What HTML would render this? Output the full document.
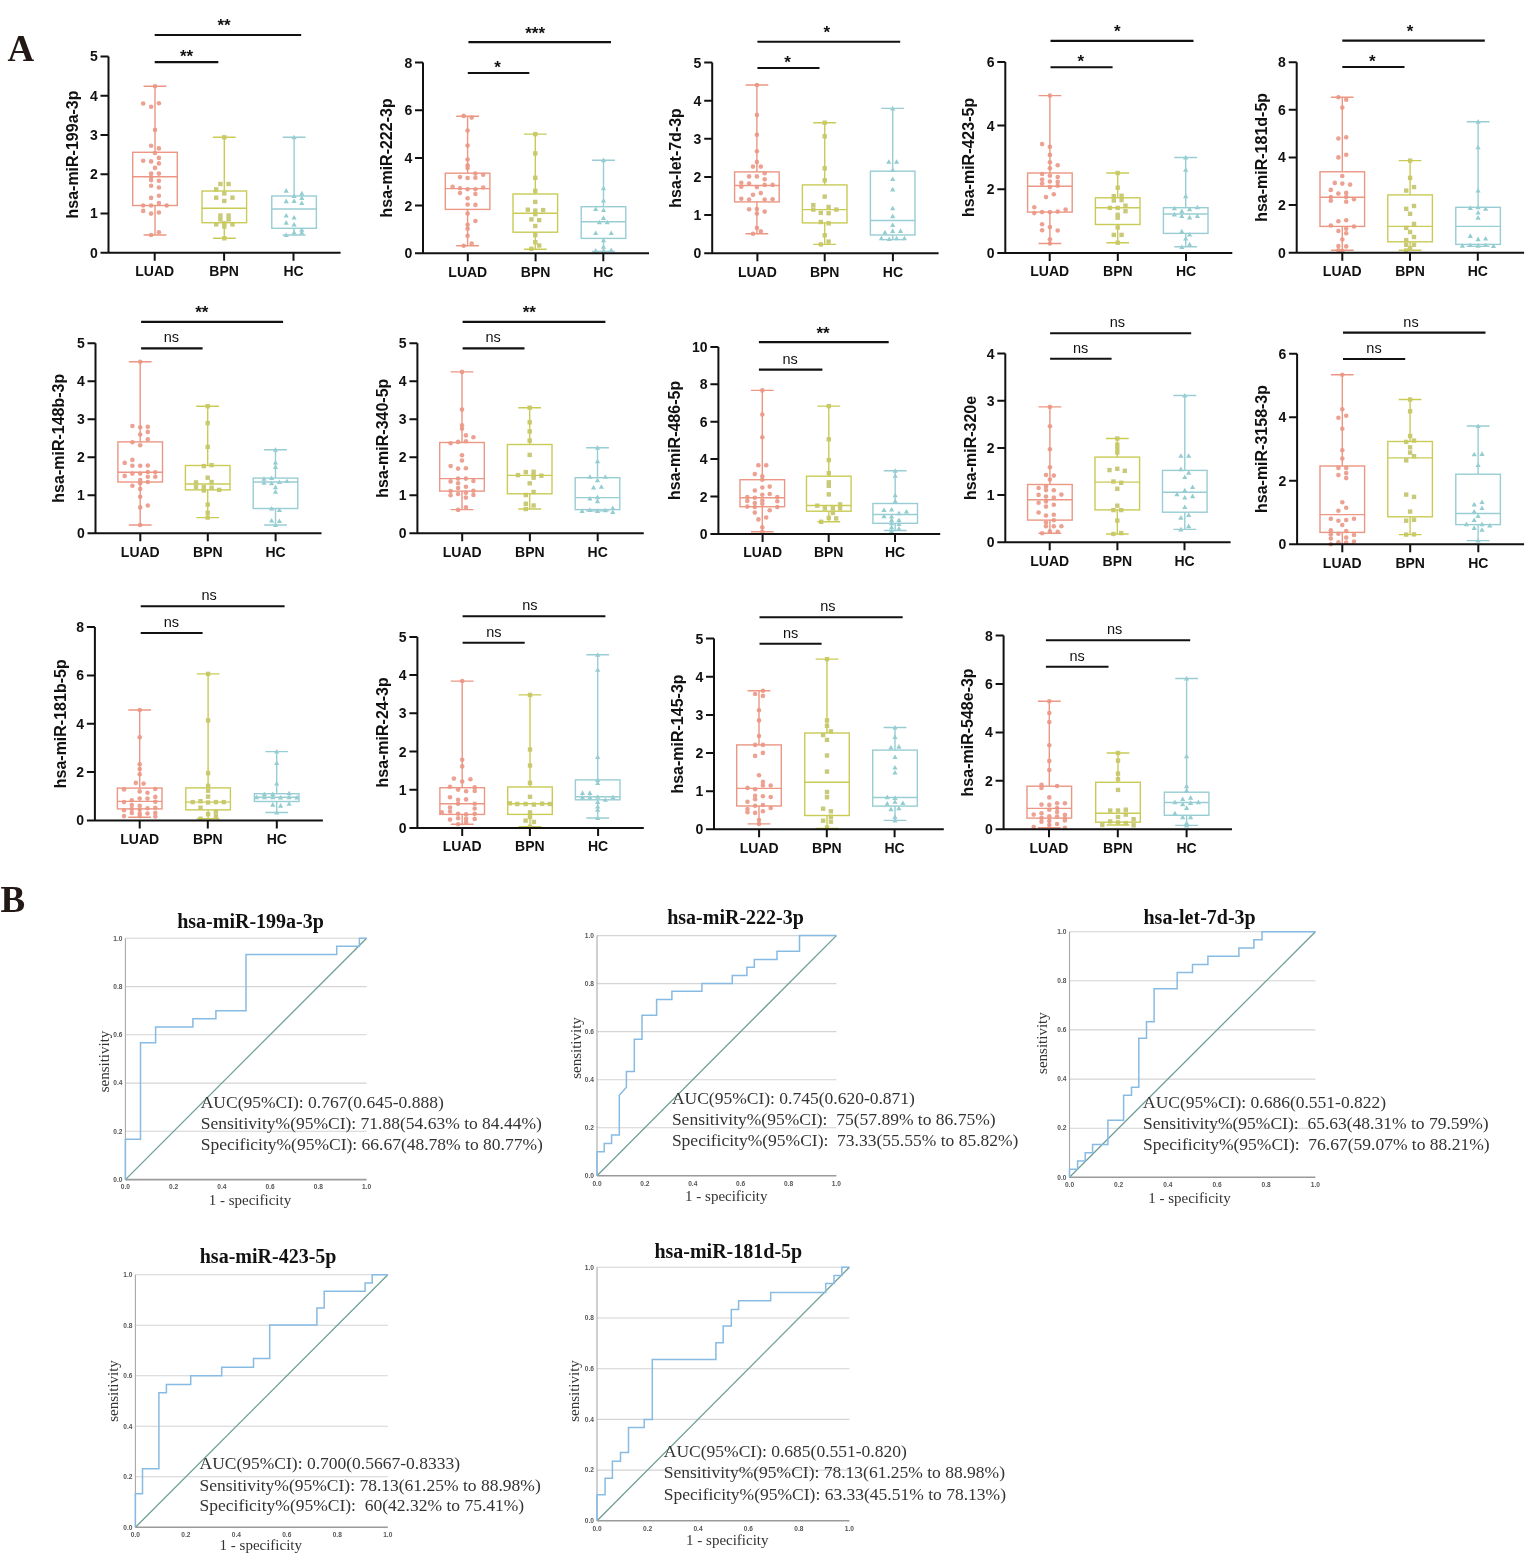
<!DOCTYPE html>
<html><head><meta charset="utf-8"><title>Figure</title><style>
html,body{margin:0;padding:0;background:#fff;}
body{width:1535px;height:1554px;overflow:hidden;}
svg{display:block;}
.tk{font-family:"Liberation Sans",Arial,sans-serif;font-weight:bold;font-size:14px;fill:#111;}
.xl{font-family:"Liberation Sans",Arial,sans-serif;font-weight:bold;font-size:14px;fill:#111;}
.yt{font-family:"Liberation Sans",Arial,sans-serif;font-weight:bold;font-size:16px;fill:#111;}
.st{font-family:"Liberation Sans",Arial,sans-serif;font-weight:bold;font-size:17px;fill:#111;}
.ns{font-family:"Liberation Sans",Arial,sans-serif;font-size:14.5px;fill:#111;}
.rt{font-family:"Liberation Sans",Arial,sans-serif;font-weight:bold;font-size:6.6px;fill:#555;}
.rti{font-family:"Liberation Serif","Times New Roman",serif;font-weight:bold;font-size:20px;fill:#111;}
.ax{font-family:"Liberation Serif","Times New Roman",serif;font-size:15px;fill:#333;}
.auc{font-family:"Liberation Serif","Times New Roman",serif;font-size:17.5px;fill:#333;white-space:pre;}
</style></head>
<body>
<svg width="1535" height="1554" viewBox="0 0 1535 1554">
<rect width="1535" height="1554" fill="#fff"/>
<text x="7.5" y="61.3" font-family="Liberation Serif, serif" font-weight="bold" font-size="37" fill="#231815">A</text>
<text x="0.5" y="911.8" font-family="Liberation Serif, serif" font-weight="bold" font-size="37" fill="#231815">B</text>
<g><circle cx="155.0" cy="86.3" r="2.3" fill="#eca192"/><circle cx="143.2" cy="103.5" r="2.3" fill="#eca192"/><circle cx="151.1" cy="106.7" r="2.3" fill="#eca192"/><circle cx="158.9" cy="103.2" r="2.3" fill="#eca192"/><circle cx="155.0" cy="129.9" r="2.3" fill="#eca192"/><circle cx="151.1" cy="145.8" r="2.3" fill="#eca192"/><circle cx="158.9" cy="148.4" r="2.3" fill="#eca192"/><circle cx="155.0" cy="153.0" r="2.3" fill="#eca192"/><circle cx="158.9" cy="157.9" r="2.3" fill="#eca192"/><circle cx="143.2" cy="160.8" r="2.3" fill="#eca192"/><circle cx="151.1" cy="161.4" r="2.3" fill="#eca192"/><circle cx="158.9" cy="163.4" r="2.3" fill="#eca192"/><circle cx="155.0" cy="167.9" r="2.3" fill="#eca192"/><circle cx="151.1" cy="173.6" r="2.3" fill="#eca192"/><circle cx="158.9" cy="173.6" r="2.3" fill="#eca192"/><circle cx="151.1" cy="177.1" r="2.3" fill="#eca192"/><circle cx="151.1" cy="180.1" r="2.3" fill="#eca192"/><circle cx="158.9" cy="180.7" r="2.3" fill="#eca192"/><circle cx="151.1" cy="185.8" r="2.3" fill="#eca192"/><circle cx="158.9" cy="187.5" r="2.3" fill="#eca192"/><circle cx="151.1" cy="197.9" r="2.3" fill="#eca192"/><circle cx="158.9" cy="195.7" r="2.3" fill="#eca192"/><circle cx="158.9" cy="203.1" r="2.3" fill="#eca192"/><circle cx="143.2" cy="205.5" r="2.3" fill="#eca192"/><circle cx="151.1" cy="205.5" r="2.3" fill="#eca192"/><circle cx="166.7" cy="205.5" r="2.3" fill="#eca192"/><circle cx="143.2" cy="210.9" r="2.3" fill="#eca192"/><circle cx="151.1" cy="213.6" r="2.3" fill="#eca192"/><circle cx="158.9" cy="212.5" r="2.3" fill="#eca192"/><circle cx="158.9" cy="232.2" r="2.3" fill="#eca192"/><circle cx="151.1" cy="235.0" r="2.3" fill="#eca192"/><rect x="222.1" y="135.1" width="4.4" height="4.4" fill="#c9c97a"/><rect x="218.2" y="181.8" width="4.4" height="4.4" fill="#c9c97a"/><rect x="226.4" y="181.8" width="4.4" height="4.4" fill="#c9c97a"/><rect x="214.0" y="187.2" width="4.4" height="4.4" fill="#c9c97a"/><rect x="222.1" y="191.2" width="4.4" height="4.4" fill="#c9c97a"/><rect x="214.0" y="195.5" width="4.4" height="4.4" fill="#c9c97a"/><rect x="230.3" y="195.5" width="4.4" height="4.4" fill="#c9c97a"/><rect x="222.1" y="198.7" width="4.4" height="4.4" fill="#c9c97a"/><rect x="218.2" y="213.3" width="4.4" height="4.4" fill="#c9c97a"/><rect x="226.4" y="213.3" width="4.4" height="4.4" fill="#c9c97a"/><rect x="218.2" y="217.2" width="4.4" height="4.4" fill="#c9c97a"/><rect x="226.4" y="217.2" width="4.4" height="4.4" fill="#c9c97a"/><rect x="214.0" y="222.2" width="4.4" height="4.4" fill="#c9c97a"/><rect x="222.1" y="221.1" width="4.4" height="4.4" fill="#c9c97a"/><rect x="230.3" y="222.2" width="4.4" height="4.4" fill="#c9c97a"/><rect x="222.1" y="224.4" width="4.4" height="4.4" fill="#c9c97a"/><rect x="222.1" y="236.1" width="4.4" height="4.4" fill="#c9c97a"/><path d="M294.1 134.7L296.7 139.3L291.5 139.3Z" fill="#94cdd0"/><path d="M286.2 188.1L288.8 192.7L283.6 192.7Z" fill="#94cdd0"/><path d="M301.8 190.8L304.4 195.4L299.2 195.4Z" fill="#94cdd0"/><path d="M294.1 193.4L296.7 198.0L291.5 198.0Z" fill="#94cdd0"/><path d="M301.8 195.3L304.4 199.9L299.2 199.9Z" fill="#94cdd0"/><path d="M286.2 198.6L288.8 203.2L283.6 203.2Z" fill="#94cdd0"/><path d="M294.1 198.3L296.7 202.9L291.5 202.9Z" fill="#94cdd0"/><path d="M301.8 200.5L304.4 205.1L299.2 205.1Z" fill="#94cdd0"/><path d="M286.2 212.9L288.8 217.5L283.6 217.5Z" fill="#94cdd0"/><path d="M294.1 214.9L296.7 219.5L291.5 219.5Z" fill="#94cdd0"/><path d="M286.2 220.1L288.8 224.7L283.6 224.7Z" fill="#94cdd0"/><path d="M294.1 222.0L296.7 226.6L291.5 226.6Z" fill="#94cdd0"/><path d="M301.8 227.2L304.4 231.8L299.2 231.8Z" fill="#94cdd0"/><path d="M294.1 229.8L296.7 234.4L291.5 234.4Z" fill="#94cdd0"/><path d="M286.2 232.4L288.8 237.0L283.6 237.0Z" fill="#94cdd0"/><path d="M301.8 229.8L304.4 234.4L299.2 234.4Z" fill="#94cdd0"/><g stroke="#ec9684" stroke-width="1.4" fill="none"><rect x="132.7" y="152.3" width="44.6" height="53.2"/><path d="M132.7 176.7H177.3M155.0 152.3V86.3M143.6 86.3H166.4M155.0 205.5V235.0M143.6 235.0H166.4"/></g><g stroke="#c9cb55" stroke-width="1.4" fill="none"><rect x="202.0" y="191.0" width="44.6" height="31.7"/><path d="M202.0 208.3H246.6M224.3 191.0V137.3M212.9 137.3H235.7M224.3 222.7V238.3M212.9 238.3H235.7"/></g><g stroke="#98cdd4" stroke-width="1.4" fill="none"><rect x="271.8" y="196.0" width="44.6" height="32.3"/><path d="M271.8 209.0H316.4M294.1 196.0V137.3M282.7 137.3H305.5M294.1 228.3V235.0M282.7 235.0H305.5"/></g><path d="M108.5 56.4V252.7M100.5 252.7H340.6M100.5 252.7H108.5M100.5 213.4H108.5M100.5 174.2H108.5M100.5 134.9H108.5M100.5 95.7H108.5M100.5 56.4H108.5M154.7 252.7V260.7M224.1 252.7V260.7M293.5 252.7V260.7" stroke="#111" stroke-width="2" fill="none"/><text x="97.7" y="257.7" text-anchor="end" class="tk">0</text><text x="97.7" y="218.4" text-anchor="end" class="tk">1</text><text x="97.7" y="179.2" text-anchor="end" class="tk">2</text><text x="97.7" y="139.9" text-anchor="end" class="tk">3</text><text x="97.7" y="100.7" text-anchor="end" class="tk">4</text><text x="97.7" y="61.4" text-anchor="end" class="tk">5</text><text x="154.7" y="276.0" text-anchor="middle" class="xl">LUAD</text><text x="224.1" y="276.0" text-anchor="middle" class="xl">BPN</text><text x="293.5" y="276.0" text-anchor="middle" class="xl">HC</text><text transform="translate(77.5 154.5) rotate(-90)" text-anchor="middle" class="yt">hsa-miR-199a-3p</text><path d="M154.7 35.0H301.2" stroke="#111" stroke-width="2.1"/><text x="224.1" y="31.4" text-anchor="middle" class="st">**</text><path d="M154.7 62.1H218.3" stroke="#111" stroke-width="2.1"/><text x="186.6" y="61.8" text-anchor="middle" class="st">**</text></g>
<g><circle cx="463.7" cy="115.9" r="2.3" fill="#eca192"/><circle cx="471.7" cy="117.6" r="2.3" fill="#eca192"/><circle cx="467.6" cy="130.5" r="2.3" fill="#eca192"/><circle cx="467.6" cy="145.6" r="2.3" fill="#eca192"/><circle cx="467.6" cy="159.5" r="2.3" fill="#eca192"/><circle cx="467.6" cy="165.4" r="2.3" fill="#eca192"/><circle cx="467.6" cy="168.0" r="2.3" fill="#eca192"/><circle cx="475.4" cy="173.6" r="2.3" fill="#eca192"/><circle cx="483.2" cy="174.8" r="2.3" fill="#eca192"/><circle cx="460.0" cy="177.1" r="2.3" fill="#eca192"/><circle cx="467.6" cy="178.0" r="2.3" fill="#eca192"/><circle cx="475.4" cy="177.8" r="2.3" fill="#eca192"/><circle cx="452.6" cy="186.9" r="2.3" fill="#eca192"/><circle cx="460.0" cy="188.2" r="2.3" fill="#eca192"/><circle cx="467.6" cy="189.2" r="2.3" fill="#eca192"/><circle cx="475.4" cy="189.2" r="2.3" fill="#eca192"/><circle cx="483.2" cy="187.5" r="2.3" fill="#eca192"/><circle cx="460.0" cy="193.0" r="2.3" fill="#eca192"/><circle cx="475.4" cy="194.0" r="2.3" fill="#eca192"/><circle cx="467.6" cy="198.3" r="2.3" fill="#eca192"/><circle cx="467.6" cy="204.5" r="2.3" fill="#eca192"/><circle cx="475.4" cy="204.9" r="2.3" fill="#eca192"/><circle cx="467.6" cy="213.6" r="2.3" fill="#eca192"/><circle cx="475.4" cy="221.0" r="2.3" fill="#eca192"/><circle cx="467.6" cy="224.7" r="2.3" fill="#eca192"/><circle cx="467.6" cy="228.8" r="2.3" fill="#eca192"/><circle cx="467.6" cy="235.7" r="2.3" fill="#eca192"/><circle cx="463.7" cy="245.8" r="2.3" fill="#eca192"/><circle cx="471.7" cy="243.6" r="2.3" fill="#eca192"/><rect x="533.1" y="131.9" width="4.4" height="4.4" fill="#c9c97a"/><rect x="533.1" y="151.2" width="4.4" height="4.4" fill="#c9c97a"/><rect x="533.1" y="175.6" width="4.4" height="4.4" fill="#c9c97a"/><rect x="533.1" y="188.6" width="4.4" height="4.4" fill="#c9c97a"/><rect x="533.1" y="199.7" width="4.4" height="4.4" fill="#c9c97a"/><rect x="525.6" y="207.5" width="4.4" height="4.4" fill="#c9c97a"/><rect x="533.1" y="208.4" width="4.4" height="4.4" fill="#c9c97a"/><rect x="540.9" y="207.9" width="4.4" height="4.4" fill="#c9c97a"/><rect x="533.1" y="212.0" width="4.4" height="4.4" fill="#c9c97a"/><rect x="529.2" y="217.2" width="4.4" height="4.4" fill="#c9c97a"/><rect x="537.0" y="217.9" width="4.4" height="4.4" fill="#c9c97a"/><rect x="533.1" y="223.8" width="4.4" height="4.4" fill="#c9c97a"/><rect x="533.1" y="232.9" width="4.4" height="4.4" fill="#c9c97a"/><rect x="533.1" y="240.0" width="4.4" height="4.4" fill="#c9c97a"/><rect x="537.0" y="243.3" width="4.4" height="4.4" fill="#c9c97a"/><rect x="529.2" y="246.6" width="4.4" height="4.4" fill="#c9c97a"/><path d="M603.5 157.6L606.1 162.2L600.9 162.2Z" fill="#94cdd0"/><path d="M603.5 185.6L606.1 190.2L600.9 190.2Z" fill="#94cdd0"/><path d="M603.5 198.0L606.1 202.6L600.9 202.6Z" fill="#94cdd0"/><path d="M595.7 206.4L598.3 211.0L593.1 211.0Z" fill="#94cdd0"/><path d="M603.5 207.5L606.1 212.1L600.9 212.1Z" fill="#94cdd0"/><path d="M603.5 215.3L606.1 219.9L600.9 219.9Z" fill="#94cdd0"/><path d="M599.4 219.7L602.0 224.3L596.8 224.3Z" fill="#94cdd0"/><path d="M607.2 219.7L609.8 224.3L604.6 224.3Z" fill="#94cdd0"/><path d="M595.7 230.5L598.3 235.1L593.1 235.1Z" fill="#94cdd0"/><path d="M611.2 230.5L613.8 235.1L608.6 235.1Z" fill="#94cdd0"/><path d="M603.5 237.7L606.1 242.3L600.9 242.3Z" fill="#94cdd0"/><path d="M603.5 244.2L606.1 248.8L600.9 248.8Z" fill="#94cdd0"/><path d="M595.7 248.1L598.3 252.7L593.1 252.7Z" fill="#94cdd0"/><path d="M603.5 248.1L606.1 252.7L600.9 252.7Z" fill="#94cdd0"/><path d="M611.2 247.5L613.8 252.1L608.6 252.1Z" fill="#94cdd0"/><g stroke="#ec9684" stroke-width="1.4" fill="none"><rect x="445.3" y="173.2" width="44.6" height="36.2"/><path d="M445.3 188.6H489.9M467.6 173.2V116.3M456.2 116.3H479.0M467.6 209.4V245.8M456.2 245.8H479.0"/></g><g stroke="#c9cb55" stroke-width="1.4" fill="none"><rect x="513.0" y="194.0" width="44.6" height="38.2"/><path d="M513.0 213.3H557.6M535.3 194.0V134.1M523.9 134.1H546.7M535.3 232.2V249.2M523.9 249.2H546.7"/></g><g stroke="#98cdd4" stroke-width="1.4" fill="none"><rect x="581.2" y="206.7" width="44.6" height="31.7"/><path d="M581.2 221.7H625.8M603.5 206.7V160.2M592.1 160.2H614.9M603.5 238.3V251.4M592.1 251.4H614.9"/></g><path d="M423.0 62.5V253.3M415.0 253.3H649.0M415.0 253.3H423.0M415.0 205.6H423.0M415.0 157.9H423.0M415.0 110.2H423.0M415.0 62.5H423.0M467.8 253.3V261.3M535.6 253.3V261.3M603.3 253.3V261.3" stroke="#111" stroke-width="2" fill="none"/><text x="412.2" y="258.3" text-anchor="end" class="tk">0</text><text x="412.2" y="210.6" text-anchor="end" class="tk">2</text><text x="412.2" y="162.9" text-anchor="end" class="tk">4</text><text x="412.2" y="115.2" text-anchor="end" class="tk">6</text><text x="412.2" y="67.5" text-anchor="end" class="tk">8</text><text x="467.8" y="276.6" text-anchor="middle" class="xl">LUAD</text><text x="535.6" y="276.6" text-anchor="middle" class="xl">BPN</text><text x="603.3" y="276.6" text-anchor="middle" class="xl">HC</text><text transform="translate(392.0 157.9) rotate(-90)" text-anchor="middle" class="yt">hsa-miR-222-3p</text><path d="M468.4 42.1H611.0" stroke="#111" stroke-width="2.1"/><text x="535.1" y="38.5" text-anchor="middle" class="st">***</text><path d="M467.8 73.0H529.3" stroke="#111" stroke-width="2.1"/><text x="497.6" y="72.7" text-anchor="middle" class="st">*</text></g>
<g><circle cx="756.9" cy="85.0" r="2.3" fill="#eca192"/><circle cx="756.9" cy="114.9" r="2.3" fill="#eca192"/><circle cx="756.9" cy="134.7" r="2.3" fill="#eca192"/><circle cx="756.9" cy="151.3" r="2.3" fill="#eca192"/><circle cx="756.9" cy="162.1" r="2.3" fill="#eca192"/><circle cx="753.0" cy="166.6" r="2.3" fill="#eca192"/><circle cx="760.8" cy="166.6" r="2.3" fill="#eca192"/><circle cx="764.7" cy="173.2" r="2.3" fill="#eca192"/><circle cx="749.1" cy="176.4" r="2.3" fill="#eca192"/><circle cx="756.9" cy="176.4" r="2.3" fill="#eca192"/><circle cx="764.7" cy="179.3" r="2.3" fill="#eca192"/><circle cx="741.3" cy="182.7" r="2.3" fill="#eca192"/><circle cx="749.1" cy="183.6" r="2.3" fill="#eca192"/><circle cx="756.9" cy="187.1" r="2.3" fill="#eca192"/><circle cx="764.7" cy="184.9" r="2.3" fill="#eca192"/><circle cx="772.6" cy="184.9" r="2.3" fill="#eca192"/><circle cx="741.3" cy="186.8" r="2.3" fill="#eca192"/><circle cx="753.0" cy="194.7" r="2.3" fill="#eca192"/><circle cx="760.8" cy="193.1" r="2.3" fill="#eca192"/><circle cx="741.3" cy="198.8" r="2.3" fill="#eca192"/><circle cx="749.1" cy="199.6" r="2.3" fill="#eca192"/><circle cx="764.7" cy="199.6" r="2.3" fill="#eca192"/><circle cx="772.6" cy="199.2" r="2.3" fill="#eca192"/><circle cx="749.1" cy="209.3" r="2.3" fill="#eca192"/><circle cx="756.9" cy="209.0" r="2.3" fill="#eca192"/><circle cx="764.7" cy="211.6" r="2.3" fill="#eca192"/><circle cx="756.9" cy="213.6" r="2.3" fill="#eca192"/><circle cx="756.9" cy="227.9" r="2.3" fill="#eca192"/><circle cx="753.0" cy="233.7" r="2.3" fill="#eca192"/><circle cx="760.8" cy="231.4" r="2.3" fill="#eca192"/><rect x="822.5" y="120.5" width="4.4" height="4.4" fill="#c9c97a"/><rect x="822.5" y="134.1" width="4.4" height="4.4" fill="#c9c97a"/><rect x="822.5" y="166.1" width="4.4" height="4.4" fill="#c9c97a"/><rect x="822.5" y="178.1" width="4.4" height="4.4" fill="#c9c97a"/><rect x="822.5" y="194.4" width="4.4" height="4.4" fill="#c9c97a"/><rect x="811.1" y="202.9" width="4.4" height="4.4" fill="#c9c97a"/><rect x="811.1" y="207.4" width="4.4" height="4.4" fill="#c9c97a"/><rect x="826.4" y="204.8" width="4.4" height="4.4" fill="#c9c97a"/><rect x="834.2" y="207.4" width="4.4" height="4.4" fill="#c9c97a"/><rect x="818.6" y="210.7" width="4.4" height="4.4" fill="#c9c97a"/><rect x="826.4" y="211.0" width="4.4" height="4.4" fill="#c9c97a"/><rect x="818.6" y="219.8" width="4.4" height="4.4" fill="#c9c97a"/><rect x="826.4" y="221.1" width="4.4" height="4.4" fill="#c9c97a"/><rect x="822.5" y="233.1" width="4.4" height="4.4" fill="#c9c97a"/><rect x="826.4" y="239.4" width="4.4" height="4.4" fill="#c9c97a"/><rect x="818.6" y="242.2" width="4.4" height="4.4" fill="#c9c97a"/><path d="M892.7 105.8L895.3 110.4L890.1 110.4Z" fill="#94cdd0"/><path d="M888.8 159.2L891.4 163.8L886.2 163.8Z" fill="#94cdd0"/><path d="M896.6 159.2L899.2 163.8L894.0 163.8Z" fill="#94cdd0"/><path d="M892.7 167.3L895.3 171.9L890.1 171.9Z" fill="#94cdd0"/><path d="M892.7 176.4L895.3 181.0L890.1 181.0Z" fill="#94cdd0"/><path d="M892.7 186.8L895.3 191.4L890.1 191.4Z" fill="#94cdd0"/><path d="M892.7 205.7L895.3 210.3L890.1 210.3Z" fill="#94cdd0"/><path d="M892.7 213.6L895.3 218.2L890.1 218.2Z" fill="#94cdd0"/><path d="M892.7 222.3L895.3 226.9L890.1 226.9Z" fill="#94cdd0"/><path d="M885.0 229.8L887.6 234.4L882.4 234.4Z" fill="#94cdd0"/><path d="M892.7 228.3L895.3 232.9L890.1 232.9Z" fill="#94cdd0"/><path d="M900.5 228.3L903.1 232.9L897.9 232.9Z" fill="#94cdd0"/><path d="M881.4 235.7L884.0 240.3L878.8 240.3Z" fill="#94cdd0"/><path d="M889.2 236.4L891.8 241.0L886.6 241.0Z" fill="#94cdd0"/><path d="M896.6 235.7L899.2 240.3L894.0 240.3Z" fill="#94cdd0"/><path d="M904.4 235.7L907.0 240.3L901.8 240.3Z" fill="#94cdd0"/><g stroke="#ec9684" stroke-width="1.4" fill="none"><rect x="734.6" y="171.9" width="44.6" height="30.0"/><path d="M734.6 185.5H779.2M756.9 171.9V85.0M745.5 85.0H768.3M756.9 201.8V233.7M745.5 233.7H768.3"/></g><g stroke="#c9cb55" stroke-width="1.4" fill="none"><rect x="802.4" y="184.9" width="44.6" height="38.0"/><path d="M802.4 209.6H847.0M824.7 184.9V122.7M813.3 122.7H836.1M824.7 222.9V244.4M813.3 244.4H836.1"/></g><g stroke="#98cdd4" stroke-width="1.4" fill="none"><rect x="870.4" y="171.2" width="44.6" height="63.8"/><path d="M870.4 220.5H915.0M892.7 171.2V108.4M881.3 108.4H904.1M892.7 235.0V239.6M881.3 239.6H904.1"/></g><path d="M712.2 62.5V253.3M704.2 253.3H938.6M704.2 253.3H712.2M704.2 215.1H712.2M704.2 177.0H712.2M704.2 138.8H712.2M704.2 100.7H712.2M704.2 62.5H712.2M757.4 253.3V261.3M824.7 253.3V261.3M892.9 253.3V261.3" stroke="#111" stroke-width="2" fill="none"/><text x="701.4" y="258.3" text-anchor="end" class="tk">0</text><text x="701.4" y="220.1" text-anchor="end" class="tk">1</text><text x="701.4" y="182.0" text-anchor="end" class="tk">2</text><text x="701.4" y="143.8" text-anchor="end" class="tk">3</text><text x="701.4" y="105.7" text-anchor="end" class="tk">4</text><text x="701.4" y="67.5" text-anchor="end" class="tk">5</text><text x="757.4" y="276.6" text-anchor="middle" class="xl">LUAD</text><text x="824.7" y="276.6" text-anchor="middle" class="xl">BPN</text><text x="892.9" y="276.6" text-anchor="middle" class="xl">HC</text><text transform="translate(681.2 157.9) rotate(-90)" text-anchor="middle" class="yt">hsa-let-7d-3p</text><path d="M757.4 41.7H900.2" stroke="#111" stroke-width="2.1"/><text x="826.8" y="38.1" text-anchor="middle" class="st">*</text><path d="M757.4 68.0H819.5" stroke="#111" stroke-width="2.1"/><text x="787.6" y="67.7" text-anchor="middle" class="st">*</text></g>
<g><circle cx="1049.9" cy="95.6" r="2.3" fill="#eca192"/><circle cx="1042.1" cy="144.1" r="2.3" fill="#eca192"/><circle cx="1049.9" cy="146.7" r="2.3" fill="#eca192"/><circle cx="1049.9" cy="154.9" r="2.3" fill="#eca192"/><circle cx="1049.9" cy="162.3" r="2.3" fill="#eca192"/><circle cx="1057.7" cy="165.3" r="2.3" fill="#eca192"/><circle cx="1049.9" cy="168.2" r="2.3" fill="#eca192"/><circle cx="1042.1" cy="174.0" r="2.3" fill="#eca192"/><circle cx="1049.9" cy="175.7" r="2.3" fill="#eca192"/><circle cx="1057.7" cy="177.0" r="2.3" fill="#eca192"/><circle cx="1042.1" cy="179.6" r="2.3" fill="#eca192"/><circle cx="1049.9" cy="181.5" r="2.3" fill="#eca192"/><circle cx="1057.7" cy="181.9" r="2.3" fill="#eca192"/><circle cx="1042.1" cy="183.6" r="2.3" fill="#eca192"/><circle cx="1049.9" cy="187.1" r="2.3" fill="#eca192"/><circle cx="1057.7" cy="185.8" r="2.3" fill="#eca192"/><circle cx="1053.8" cy="194.2" r="2.3" fill="#eca192"/><circle cx="1046.0" cy="197.1" r="2.3" fill="#eca192"/><circle cx="1034.3" cy="207.3" r="2.3" fill="#eca192"/><circle cx="1065.6" cy="209.6" r="2.3" fill="#eca192"/><circle cx="1034.3" cy="213.1" r="2.3" fill="#eca192"/><circle cx="1042.1" cy="212.1" r="2.3" fill="#eca192"/><circle cx="1049.9" cy="212.1" r="2.3" fill="#eca192"/><circle cx="1057.7" cy="211.6" r="2.3" fill="#eca192"/><circle cx="1042.1" cy="224.2" r="2.3" fill="#eca192"/><circle cx="1049.9" cy="227.1" r="2.3" fill="#eca192"/><circle cx="1042.1" cy="230.3" r="2.3" fill="#eca192"/><circle cx="1057.7" cy="230.5" r="2.3" fill="#eca192"/><circle cx="1049.9" cy="239.2" r="2.3" fill="#eca192"/><circle cx="1049.9" cy="243.5" r="2.3" fill="#eca192"/><rect x="1115.5" y="170.8" width="4.4" height="4.4" fill="#c9c97a"/><rect x="1115.5" y="185.5" width="4.4" height="4.4" fill="#c9c97a"/><rect x="1111.6" y="194.0" width="4.4" height="4.4" fill="#c9c97a"/><rect x="1119.4" y="193.6" width="4.4" height="4.4" fill="#c9c97a"/><rect x="1111.6" y="198.3" width="4.4" height="4.4" fill="#c9c97a"/><rect x="1119.4" y="197.9" width="4.4" height="4.4" fill="#c9c97a"/><rect x="1107.7" y="205.7" width="4.4" height="4.4" fill="#c9c97a"/><rect x="1115.5" y="205.7" width="4.4" height="4.4" fill="#c9c97a"/><rect x="1123.3" y="203.5" width="4.4" height="4.4" fill="#c9c97a"/><rect x="1123.3" y="209.0" width="4.4" height="4.4" fill="#c9c97a"/><rect x="1115.5" y="212.6" width="4.4" height="4.4" fill="#c9c97a"/><rect x="1115.5" y="215.5" width="4.4" height="4.4" fill="#c9c97a"/><rect x="1115.5" y="225.3" width="4.4" height="4.4" fill="#c9c97a"/><rect x="1111.6" y="232.7" width="4.4" height="4.4" fill="#c9c97a"/><rect x="1119.4" y="232.7" width="4.4" height="4.4" fill="#c9c97a"/><rect x="1115.5" y="240.5" width="4.4" height="4.4" fill="#c9c97a"/><path d="M1185.7 154.9L1188.3 159.5L1183.1 159.5Z" fill="#94cdd0"/><path d="M1185.7 167.1L1188.3 171.7L1183.1 171.7Z" fill="#94cdd0"/><path d="M1185.7 193.6L1188.3 198.2L1183.1 198.2Z" fill="#94cdd0"/><path d="M1174.4 205.7L1177.0 210.3L1171.8 210.3Z" fill="#94cdd0"/><path d="M1189.6 206.6L1192.2 211.2L1187.0 211.2Z" fill="#94cdd0"/><path d="M1197.4 204.7L1200.0 209.3L1194.8 209.3Z" fill="#94cdd0"/><path d="M1181.8 208.6L1184.4 213.2L1179.2 213.2Z" fill="#94cdd0"/><path d="M1174.4 211.8L1177.0 216.4L1171.8 216.4Z" fill="#94cdd0"/><path d="M1181.8 213.5L1184.4 218.1L1179.2 218.1Z" fill="#94cdd0"/><path d="M1189.6 214.8L1192.2 219.4L1187.0 219.4Z" fill="#94cdd0"/><path d="M1197.4 213.5L1200.0 218.1L1194.8 218.1Z" fill="#94cdd0"/><path d="M1181.8 228.8L1184.4 233.4L1179.2 233.4Z" fill="#94cdd0"/><path d="M1189.6 232.0L1192.2 236.6L1187.0 236.6Z" fill="#94cdd0"/><path d="M1185.7 235.9L1188.3 240.5L1183.1 240.5Z" fill="#94cdd0"/><path d="M1189.6 241.8L1192.2 246.4L1187.0 246.4Z" fill="#94cdd0"/><path d="M1181.8 244.4L1184.4 249.0L1179.2 249.0Z" fill="#94cdd0"/><g stroke="#ec9684" stroke-width="1.4" fill="none"><rect x="1027.6" y="173.0" width="44.6" height="39.1"/><path d="M1027.6 186.2H1072.2M1049.9 173.0V95.6M1038.5 95.6H1061.3M1049.9 212.1V243.5M1038.5 243.5H1061.3"/></g><g stroke="#c9cb55" stroke-width="1.4" fill="none"><rect x="1095.4" y="197.8" width="44.6" height="26.7"/><path d="M1095.4 207.7H1140.0M1117.7 197.8V173.0M1106.3 173.0H1129.1M1117.7 224.5V242.7M1106.3 242.7H1129.1"/></g><g stroke="#98cdd4" stroke-width="1.4" fill="none"><rect x="1163.4" y="207.7" width="44.6" height="25.7"/><path d="M1163.4 214.0H1208.0M1185.7 207.7V157.5M1174.3 157.5H1197.1M1185.7 233.3V246.7M1174.3 246.7H1197.1"/></g><path d="M1005.3 61.9V252.9M997.3 252.9H1232.3M997.3 252.9H1005.3M997.3 189.2H1005.3M997.3 125.6H1005.3M997.3 61.9H1005.3M1049.7 252.9V260.9M1117.8 252.9V260.9M1186.0 252.9V260.9" stroke="#111" stroke-width="2" fill="none"/><text x="994.5" y="257.9" text-anchor="end" class="tk">0</text><text x="994.5" y="194.2" text-anchor="end" class="tk">2</text><text x="994.5" y="130.6" text-anchor="end" class="tk">4</text><text x="994.5" y="66.9" text-anchor="end" class="tk">6</text><text x="1049.7" y="276.2" text-anchor="middle" class="xl">LUAD</text><text x="1117.8" y="276.2" text-anchor="middle" class="xl">BPN</text><text x="1186.0" y="276.2" text-anchor="middle" class="xl">HC</text><text transform="translate(974.3 157.4) rotate(-90)" text-anchor="middle" class="yt">hsa-miR-423-5p</text><path d="M1050.5 40.9H1193.5" stroke="#111" stroke-width="2.1"/><text x="1117.4" y="37.3" text-anchor="middle" class="st">*</text><path d="M1050.5 67.3H1112.6" stroke="#111" stroke-width="2.1"/><text x="1080.7" y="67.0" text-anchor="middle" class="st">*</text></g>
<g><circle cx="1338.4" cy="97.2" r="2.3" fill="#eca192"/><circle cx="1346.2" cy="99.8" r="2.3" fill="#eca192"/><circle cx="1342.3" cy="107.6" r="2.3" fill="#eca192"/><circle cx="1338.4" cy="138.5" r="2.3" fill="#eca192"/><circle cx="1346.2" cy="137.2" r="2.3" fill="#eca192"/><circle cx="1338.4" cy="157.4" r="2.3" fill="#eca192"/><circle cx="1346.2" cy="154.8" r="2.3" fill="#eca192"/><circle cx="1342.3" cy="176.0" r="2.3" fill="#eca192"/><circle cx="1334.8" cy="182.9" r="2.3" fill="#eca192"/><circle cx="1342.3" cy="183.6" r="2.3" fill="#eca192"/><circle cx="1350.1" cy="184.6" r="2.3" fill="#eca192"/><circle cx="1330.8" cy="189.9" r="2.3" fill="#eca192"/><circle cx="1338.4" cy="193.6" r="2.3" fill="#eca192"/><circle cx="1346.2" cy="192.9" r="2.3" fill="#eca192"/><circle cx="1330.8" cy="197.1" r="2.3" fill="#eca192"/><circle cx="1346.2" cy="197.1" r="2.3" fill="#eca192"/><circle cx="1330.8" cy="200.7" r="2.3" fill="#eca192"/><circle cx="1346.2" cy="201.7" r="2.3" fill="#eca192"/><circle cx="1354.0" cy="199.2" r="2.3" fill="#eca192"/><circle cx="1338.4" cy="221.3" r="2.3" fill="#eca192"/><circle cx="1346.2" cy="220.3" r="2.3" fill="#eca192"/><circle cx="1330.8" cy="225.5" r="2.3" fill="#eca192"/><circle cx="1354.0" cy="226.5" r="2.3" fill="#eca192"/><circle cx="1338.4" cy="231.0" r="2.3" fill="#eca192"/><circle cx="1346.2" cy="228.8" r="2.3" fill="#eca192"/><circle cx="1346.2" cy="233.3" r="2.3" fill="#eca192"/><circle cx="1342.3" cy="239.6" r="2.3" fill="#eca192"/><circle cx="1338.4" cy="246.1" r="2.3" fill="#eca192"/><circle cx="1346.2" cy="246.4" r="2.3" fill="#eca192"/><circle cx="1338.4" cy="250.3" r="2.3" fill="#eca192"/><circle cx="1342.3" cy="250.9" r="2.3" fill="#eca192"/><rect x="1407.9" y="158.4" width="4.4" height="4.4" fill="#c9c97a"/><rect x="1407.9" y="175.7" width="4.4" height="4.4" fill="#c9c97a"/><rect x="1411.8" y="184.9" width="4.4" height="4.4" fill="#c9c97a"/><rect x="1404.0" y="188.4" width="4.4" height="4.4" fill="#c9c97a"/><rect x="1411.8" y="203.8" width="4.4" height="4.4" fill="#c9c97a"/><rect x="1404.0" y="206.6" width="4.4" height="4.4" fill="#c9c97a"/><rect x="1407.9" y="211.6" width="4.4" height="4.4" fill="#c9c97a"/><rect x="1411.8" y="221.7" width="4.4" height="4.4" fill="#c9c97a"/><rect x="1404.0" y="225.7" width="4.4" height="4.4" fill="#c9c97a"/><rect x="1407.9" y="229.8" width="4.4" height="4.4" fill="#c9c97a"/><rect x="1411.8" y="234.8" width="4.4" height="4.4" fill="#c9c97a"/><rect x="1404.0" y="237.9" width="4.4" height="4.4" fill="#c9c97a"/><rect x="1404.0" y="242.6" width="4.4" height="4.4" fill="#c9c97a"/><rect x="1411.8" y="242.6" width="4.4" height="4.4" fill="#c9c97a"/><rect x="1407.9" y="246.1" width="4.4" height="4.4" fill="#c9c97a"/><rect x="1404.0" y="248.3" width="4.4" height="4.4" fill="#c9c97a"/><path d="M1478.1 119.1L1480.7 123.7L1475.5 123.7Z" fill="#94cdd0"/><path d="M1478.1 144.7L1480.7 149.3L1475.5 149.3Z" fill="#94cdd0"/><path d="M1478.1 188.0L1480.7 192.6L1475.5 192.6Z" fill="#94cdd0"/><path d="M1470.3 205.3L1472.9 209.9L1467.7 209.9Z" fill="#94cdd0"/><path d="M1478.1 204.7L1480.7 209.3L1475.5 209.3Z" fill="#94cdd0"/><path d="M1485.6 206.2L1488.2 210.8L1483.0 210.8Z" fill="#94cdd0"/><path d="M1478.1 209.9L1480.7 214.5L1475.5 214.5Z" fill="#94cdd0"/><path d="M1478.1 215.1L1480.7 219.7L1475.5 219.7Z" fill="#94cdd0"/><path d="M1470.3 233.3L1472.9 237.9L1467.7 237.9Z" fill="#94cdd0"/><path d="M1478.1 236.6L1480.7 241.2L1475.5 241.2Z" fill="#94cdd0"/><path d="M1485.6 235.9L1488.2 240.5L1483.0 240.5Z" fill="#94cdd0"/><path d="M1462.4 243.1L1465.0 247.7L1459.8 247.7Z" fill="#94cdd0"/><path d="M1470.3 242.4L1472.9 247.0L1467.7 247.0Z" fill="#94cdd0"/><path d="M1478.1 243.1L1480.7 247.7L1475.5 247.7Z" fill="#94cdd0"/><path d="M1485.6 242.4L1488.2 247.0L1483.0 247.0Z" fill="#94cdd0"/><path d="M1493.5 243.5L1496.1 248.1L1490.9 248.1Z" fill="#94cdd0"/><g stroke="#ec9684" stroke-width="1.4" fill="none"><rect x="1320.0" y="171.8" width="44.6" height="54.6"/><path d="M1320.0 197.2H1364.6M1342.3 171.8V97.2M1330.9 97.2H1353.7M1342.3 226.4V250.3M1330.9 250.3H1353.7"/></g><g stroke="#c9cb55" stroke-width="1.4" fill="none"><rect x="1387.8" y="194.9" width="44.6" height="46.9"/><path d="M1387.8 226.4H1432.4M1410.1 194.9V160.6M1398.7 160.6H1421.5M1410.1 241.8V250.3M1398.7 250.3H1421.5"/></g><g stroke="#98cdd4" stroke-width="1.4" fill="none"><rect x="1455.8" y="207.3" width="44.6" height="37.1"/><path d="M1455.8 226.4H1500.4M1478.1 207.3V121.7M1466.7 121.7H1489.5M1478.1 244.4V246.4M1466.7 246.4H1489.5"/></g><path d="M1296.7 62.2V252.7M1288.7 252.7H1524.1M1288.7 252.7H1296.7M1288.7 205.1H1296.7M1288.7 157.4H1296.7M1288.7 109.8H1296.7M1288.7 62.2H1296.7M1342.3 252.7V260.7M1410.0 252.7V260.7M1477.8 252.7V260.7" stroke="#111" stroke-width="2" fill="none"/><text x="1285.9" y="257.7" text-anchor="end" class="tk">0</text><text x="1285.9" y="210.1" text-anchor="end" class="tk">2</text><text x="1285.9" y="162.4" text-anchor="end" class="tk">4</text><text x="1285.9" y="114.8" text-anchor="end" class="tk">6</text><text x="1285.9" y="67.2" text-anchor="end" class="tk">8</text><text x="1342.3" y="276.0" text-anchor="middle" class="xl">LUAD</text><text x="1410.0" y="276.0" text-anchor="middle" class="xl">BPN</text><text x="1477.8" y="276.0" text-anchor="middle" class="xl">HC</text><text transform="translate(1267.4 157.4) rotate(-90)" text-anchor="middle" class="yt">hsa-miR-181d-5p</text><path d="M1342.3 40.6H1484.8" stroke="#111" stroke-width="2.1"/><text x="1410.0" y="37.0" text-anchor="middle" class="st">*</text><path d="M1342.3 67.0H1404.5" stroke="#111" stroke-width="2.1"/><text x="1372.4" y="66.7" text-anchor="middle" class="st">*</text></g>
<g><circle cx="140.2" cy="361.8" r="2.3" fill="#eca192"/><circle cx="132.4" cy="426.0" r="2.3" fill="#eca192"/><circle cx="140.2" cy="427.3" r="2.3" fill="#eca192"/><circle cx="147.8" cy="426.7" r="2.3" fill="#eca192"/><circle cx="147.8" cy="431.9" r="2.3" fill="#eca192"/><circle cx="140.2" cy="434.5" r="2.3" fill="#eca192"/><circle cx="147.8" cy="439.4" r="2.3" fill="#eca192"/><circle cx="132.4" cy="442.3" r="2.3" fill="#eca192"/><circle cx="140.2" cy="445.2" r="2.3" fill="#eca192"/><circle cx="132.4" cy="459.9" r="2.3" fill="#eca192"/><circle cx="124.7" cy="462.9" r="2.3" fill="#eca192"/><circle cx="132.4" cy="465.7" r="2.3" fill="#eca192"/><circle cx="140.2" cy="465.7" r="2.3" fill="#eca192"/><circle cx="147.8" cy="465.5" r="2.3" fill="#eca192"/><circle cx="132.4" cy="473.6" r="2.3" fill="#eca192"/><circle cx="140.2" cy="473.6" r="2.3" fill="#eca192"/><circle cx="147.8" cy="472.0" r="2.3" fill="#eca192"/><circle cx="155.3" cy="472.3" r="2.3" fill="#eca192"/><circle cx="124.7" cy="475.9" r="2.3" fill="#eca192"/><circle cx="147.8" cy="476.8" r="2.3" fill="#eca192"/><circle cx="155.3" cy="476.8" r="2.3" fill="#eca192"/><circle cx="140.2" cy="480.1" r="2.3" fill="#eca192"/><circle cx="140.2" cy="483.3" r="2.3" fill="#eca192"/><circle cx="147.8" cy="482.0" r="2.3" fill="#eca192"/><circle cx="132.4" cy="485.7" r="2.3" fill="#eca192"/><circle cx="140.2" cy="488.9" r="2.3" fill="#eca192"/><circle cx="140.2" cy="496.8" r="2.3" fill="#eca192"/><circle cx="140.2" cy="507.4" r="2.3" fill="#eca192"/><circle cx="147.8" cy="505.5" r="2.3" fill="#eca192"/><circle cx="140.2" cy="525.0" r="2.3" fill="#eca192"/><rect x="205.5" y="404.0" width="4.4" height="4.4" fill="#c9c97a"/><rect x="205.5" y="420.9" width="4.4" height="4.4" fill="#c9c97a"/><rect x="205.5" y="444.7" width="4.4" height="4.4" fill="#c9c97a"/><rect x="201.6" y="463.9" width="4.4" height="4.4" fill="#c9c97a"/><rect x="209.4" y="462.9" width="4.4" height="4.4" fill="#c9c97a"/><rect x="205.5" y="475.5" width="4.4" height="4.4" fill="#c9c97a"/><rect x="193.8" y="480.2" width="4.4" height="4.4" fill="#c9c97a"/><rect x="209.4" y="479.8" width="4.4" height="4.4" fill="#c9c97a"/><rect x="193.8" y="485.0" width="4.4" height="4.4" fill="#c9c97a"/><rect x="201.6" y="485.0" width="4.4" height="4.4" fill="#c9c97a"/><rect x="209.4" y="485.4" width="4.4" height="4.4" fill="#c9c97a"/><rect x="217.0" y="487.7" width="4.4" height="4.4" fill="#c9c97a"/><rect x="201.6" y="488.3" width="4.4" height="4.4" fill="#c9c97a"/><rect x="205.5" y="502.4" width="4.4" height="4.4" fill="#c9c97a"/><rect x="205.5" y="510.5" width="4.4" height="4.4" fill="#c9c97a"/><rect x="205.5" y="515.4" width="4.4" height="4.4" fill="#c9c97a"/><path d="M275.5 447.1L278.1 451.7L272.9 451.7Z" fill="#94cdd0"/><path d="M275.5 459.9L278.1 464.5L272.9 464.5Z" fill="#94cdd0"/><path d="M275.5 464.5L278.1 469.1L272.9 469.1Z" fill="#94cdd0"/><path d="M264.0 476.2L266.6 480.8L261.4 480.8Z" fill="#94cdd0"/><path d="M271.6 475.5L274.2 480.1L269.0 480.1Z" fill="#94cdd0"/><path d="M264.0 480.1L266.6 484.7L261.4 484.7Z" fill="#94cdd0"/><path d="M271.6 480.7L274.2 485.3L269.0 485.3Z" fill="#94cdd0"/><path d="M279.4 479.4L282.0 484.0L276.8 484.0Z" fill="#94cdd0"/><path d="M286.9 478.5L289.5 483.1L284.3 483.1Z" fill="#94cdd0"/><path d="M275.5 484.6L278.1 489.2L272.9 489.2Z" fill="#94cdd0"/><path d="M275.5 489.2L278.1 493.8L272.9 493.8Z" fill="#94cdd0"/><path d="M271.6 505.9L274.2 510.5L269.0 510.5Z" fill="#94cdd0"/><path d="M279.4 507.4L282.0 512.0L276.8 512.0Z" fill="#94cdd0"/><path d="M271.6 517.9L274.2 522.5L269.0 522.5Z" fill="#94cdd0"/><path d="M279.4 518.5L282.0 523.1L276.8 523.1Z" fill="#94cdd0"/><path d="M275.5 522.4L278.1 527.0L272.9 527.0Z" fill="#94cdd0"/><g stroke="#ec9684" stroke-width="1.4" fill="none"><rect x="117.9" y="441.9" width="44.6" height="40.1"/><path d="M117.9 472.3H162.5M140.2 441.9V361.8M128.8 361.8H151.6M140.2 482.0V525.0M128.8 525.0H151.6"/></g><g stroke="#c9cb55" stroke-width="1.4" fill="none"><rect x="185.4" y="465.5" width="44.6" height="24.4"/><path d="M185.4 484.0H230.0M207.7 465.5V406.2M196.3 406.2H219.1M207.7 489.9V517.6M196.3 517.6H219.1"/></g><g stroke="#98cdd4" stroke-width="1.4" fill="none"><rect x="253.2" y="478.1" width="44.6" height="30.4"/><path d="M253.2 482.0H297.8M275.5 478.1V449.7M264.1 449.7H286.9M275.5 508.5V525.0M264.1 525.0H286.9"/></g><path d="M95.5 343.2V533.3M87.5 533.3H321.5M87.5 533.3H95.5M87.5 495.3H95.5M87.5 457.3H95.5M87.5 419.2H95.5M87.5 381.2H95.5M87.5 343.2H95.5M140.3 533.3V541.3M207.8 533.3V541.3M275.6 533.3V541.3" stroke="#111" stroke-width="2" fill="none"/><text x="84.7" y="538.3" text-anchor="end" class="tk">0</text><text x="84.7" y="500.3" text-anchor="end" class="tk">1</text><text x="84.7" y="462.3" text-anchor="end" class="tk">2</text><text x="84.7" y="424.2" text-anchor="end" class="tk">3</text><text x="84.7" y="386.2" text-anchor="end" class="tk">4</text><text x="84.7" y="348.2" text-anchor="end" class="tk">5</text><text x="140.3" y="556.6" text-anchor="middle" class="xl">LUAD</text><text x="207.8" y="556.6" text-anchor="middle" class="xl">BPN</text><text x="275.6" y="556.6" text-anchor="middle" class="xl">HC</text><text transform="translate(63.5 438.2) rotate(-90)" text-anchor="middle" class="yt">hsa-miR-148b-3p</text><path d="M141.1 321.9H283.1" stroke="#111" stroke-width="2.1"/><text x="201.8" y="318.3" text-anchor="middle" class="st">**</text><path d="M141.1 348.4H202.6" stroke="#111" stroke-width="2.1"/><text x="171.4" y="342.4" text-anchor="middle" class="ns">ns</text></g>
<g><circle cx="462.0" cy="371.9" r="2.3" fill="#eca192"/><circle cx="462.0" cy="409.6" r="2.3" fill="#eca192"/><circle cx="462.0" cy="425.2" r="2.3" fill="#eca192"/><circle cx="462.0" cy="428.8" r="2.3" fill="#eca192"/><circle cx="465.9" cy="435.4" r="2.3" fill="#eca192"/><circle cx="473.4" cy="437.3" r="2.3" fill="#eca192"/><circle cx="450.6" cy="443.2" r="2.3" fill="#eca192"/><circle cx="458.1" cy="441.9" r="2.3" fill="#eca192"/><circle cx="465.9" cy="441.2" r="2.3" fill="#eca192"/><circle cx="462.0" cy="455.2" r="2.3" fill="#eca192"/><circle cx="462.0" cy="460.5" r="2.3" fill="#eca192"/><circle cx="450.6" cy="466.0" r="2.3" fill="#eca192"/><circle cx="458.1" cy="468.6" r="2.3" fill="#eca192"/><circle cx="465.9" cy="468.3" r="2.3" fill="#eca192"/><circle cx="458.1" cy="478.6" r="2.3" fill="#eca192"/><circle cx="465.9" cy="478.6" r="2.3" fill="#eca192"/><circle cx="450.6" cy="481.4" r="2.3" fill="#eca192"/><circle cx="473.4" cy="481.0" r="2.3" fill="#eca192"/><circle cx="458.1" cy="483.3" r="2.3" fill="#eca192"/><circle cx="458.1" cy="488.1" r="2.3" fill="#eca192"/><circle cx="465.9" cy="486.8" r="2.3" fill="#eca192"/><circle cx="450.6" cy="491.1" r="2.3" fill="#eca192"/><circle cx="473.4" cy="490.7" r="2.3" fill="#eca192"/><circle cx="450.6" cy="495.3" r="2.3" fill="#eca192"/><circle cx="458.1" cy="494.0" r="2.3" fill="#eca192"/><circle cx="465.9" cy="492.7" r="2.3" fill="#eca192"/><circle cx="473.4" cy="495.0" r="2.3" fill="#eca192"/><circle cx="465.9" cy="497.6" r="2.3" fill="#eca192"/><circle cx="465.9" cy="507.3" r="2.3" fill="#eca192"/><circle cx="458.1" cy="509.9" r="2.3" fill="#eca192"/><rect x="527.5" y="405.5" width="4.4" height="4.4" fill="#c9c97a"/><rect x="527.5" y="420.1" width="4.4" height="4.4" fill="#c9c97a"/><rect x="527.5" y="429.2" width="4.4" height="4.4" fill="#c9c97a"/><rect x="527.5" y="438.4" width="4.4" height="4.4" fill="#c9c97a"/><rect x="527.5" y="452.7" width="4.4" height="4.4" fill="#c9c97a"/><rect x="523.6" y="469.9" width="4.4" height="4.4" fill="#c9c97a"/><rect x="531.4" y="469.6" width="4.4" height="4.4" fill="#c9c97a"/><rect x="515.8" y="472.9" width="4.4" height="4.4" fill="#c9c97a"/><rect x="531.4" y="473.3" width="4.4" height="4.4" fill="#c9c97a"/><rect x="539.2" y="473.5" width="4.4" height="4.4" fill="#c9c97a"/><rect x="531.4" y="475.5" width="4.4" height="4.4" fill="#c9c97a"/><rect x="527.5" y="481.1" width="4.4" height="4.4" fill="#c9c97a"/><rect x="531.4" y="489.8" width="4.4" height="4.4" fill="#c9c97a"/><rect x="523.6" y="492.8" width="4.4" height="4.4" fill="#c9c97a"/><rect x="523.6" y="501.6" width="4.4" height="4.4" fill="#c9c97a"/><rect x="531.4" y="503.3" width="4.4" height="4.4" fill="#c9c97a"/><rect x="523.6" y="506.8" width="4.4" height="4.4" fill="#c9c97a"/><path d="M597.5 445.1L600.1 449.7L594.9 449.7Z" fill="#94cdd0"/><path d="M597.5 458.6L600.1 463.2L594.9 463.2Z" fill="#94cdd0"/><path d="M589.9 474.2L592.5 478.8L587.3 478.8Z" fill="#94cdd0"/><path d="M597.5 477.7L600.1 482.3L594.9 482.3Z" fill="#94cdd0"/><path d="M605.3 474.2L607.9 478.8L602.7 478.8Z" fill="#94cdd0"/><path d="M593.6 484.9L596.2 489.5L591.0 489.5Z" fill="#94cdd0"/><path d="M601.4 484.2L604.0 488.8L598.8 488.8Z" fill="#94cdd0"/><path d="M589.9 496.0L592.5 500.6L587.3 500.6Z" fill="#94cdd0"/><path d="M597.5 494.6L600.1 499.2L594.9 499.2Z" fill="#94cdd0"/><path d="M597.5 498.6L600.1 503.2L594.9 503.2Z" fill="#94cdd0"/><path d="M582.1 508.3L584.7 512.9L579.5 512.9Z" fill="#94cdd0"/><path d="M589.9 507.3L592.5 511.9L587.3 511.9Z" fill="#94cdd0"/><path d="M597.5 508.3L600.1 512.9L594.9 512.9Z" fill="#94cdd0"/><path d="M605.3 507.7L607.9 512.3L602.7 512.3Z" fill="#94cdd0"/><path d="M612.8 505.5L615.4 510.1L610.2 510.1Z" fill="#94cdd0"/><path d="M612.8 509.4L615.4 514.0L610.2 514.0Z" fill="#94cdd0"/><g stroke="#ec9684" stroke-width="1.4" fill="none"><rect x="439.7" y="442.5" width="44.6" height="48.6"/><path d="M439.7 478.6H484.3M462.0 442.5V371.9M450.6 371.9H473.4M462.0 491.1V509.6M450.6 509.6H473.4"/></g><g stroke="#c9cb55" stroke-width="1.4" fill="none"><rect x="507.4" y="444.5" width="44.6" height="49.3"/><path d="M507.4 475.4H552.0M529.7 444.5V407.7M518.3 407.7H541.1M529.7 493.7V509.0M518.3 509.0H541.1"/></g><g stroke="#98cdd4" stroke-width="1.4" fill="none"><rect x="575.2" y="477.7" width="44.6" height="31.9"/><path d="M575.2 497.6H619.8M597.5 477.7V447.7M586.1 447.7H608.9M597.5 509.6V510.9M586.1 510.9H608.9"/></g><path d="M417.4 343.2V533.3M409.4 533.3H643.8M409.4 533.3H417.4M409.4 495.3H417.4M409.4 457.3H417.4M409.4 419.2H417.4M409.4 381.2H417.4M409.4 343.2H417.4M462.2 533.3V541.3M529.9 533.3V541.3M597.7 533.3V541.3" stroke="#111" stroke-width="2" fill="none"/><text x="406.6" y="538.3" text-anchor="end" class="tk">0</text><text x="406.6" y="500.3" text-anchor="end" class="tk">1</text><text x="406.6" y="462.3" text-anchor="end" class="tk">2</text><text x="406.6" y="424.2" text-anchor="end" class="tk">3</text><text x="406.6" y="386.2" text-anchor="end" class="tk">4</text><text x="406.6" y="348.2" text-anchor="end" class="tk">5</text><text x="462.2" y="556.6" text-anchor="middle" class="xl">LUAD</text><text x="529.9" y="556.6" text-anchor="middle" class="xl">BPN</text><text x="597.7" y="556.6" text-anchor="middle" class="xl">HC</text><text transform="translate(387.5 438.2) rotate(-90)" text-anchor="middle" class="yt">hsa-miR-340-5p</text><path d="M462.6 321.9H605.4" stroke="#111" stroke-width="2.1"/><text x="529.3" y="318.3" text-anchor="middle" class="st">**</text><path d="M462.6 348.4H524.5" stroke="#111" stroke-width="2.1"/><text x="493.2" y="342.4" text-anchor="middle" class="ns">ns</text></g>
<g><circle cx="762.3" cy="390.4" r="2.3" fill="#eca192"/><circle cx="762.3" cy="414.5" r="2.3" fill="#eca192"/><circle cx="762.3" cy="437.3" r="2.3" fill="#eca192"/><circle cx="758.4" cy="465.3" r="2.3" fill="#eca192"/><circle cx="766.2" cy="465.3" r="2.3" fill="#eca192"/><circle cx="754.8" cy="474.1" r="2.3" fill="#eca192"/><circle cx="762.3" cy="476.2" r="2.3" fill="#eca192"/><circle cx="762.3" cy="479.7" r="2.3" fill="#eca192"/><circle cx="762.3" cy="487.5" r="2.3" fill="#eca192"/><circle cx="769.7" cy="486.6" r="2.3" fill="#eca192"/><circle cx="754.8" cy="490.5" r="2.3" fill="#eca192"/><circle cx="762.3" cy="494.7" r="2.3" fill="#eca192"/><circle cx="769.7" cy="494.0" r="2.3" fill="#eca192"/><circle cx="747.3" cy="497.0" r="2.3" fill="#eca192"/><circle cx="754.8" cy="497.7" r="2.3" fill="#eca192"/><circle cx="777.3" cy="497.0" r="2.3" fill="#eca192"/><circle cx="747.3" cy="500.9" r="2.3" fill="#eca192"/><circle cx="762.3" cy="500.5" r="2.3" fill="#eca192"/><circle cx="777.3" cy="501.2" r="2.3" fill="#eca192"/><circle cx="754.8" cy="503.1" r="2.3" fill="#eca192"/><circle cx="762.3" cy="503.8" r="2.3" fill="#eca192"/><circle cx="747.3" cy="506.6" r="2.3" fill="#eca192"/><circle cx="754.8" cy="507.0" r="2.3" fill="#eca192"/><circle cx="777.3" cy="507.0" r="2.3" fill="#eca192"/><circle cx="769.7" cy="510.3" r="2.3" fill="#eca192"/><circle cx="754.8" cy="512.6" r="2.3" fill="#eca192"/><circle cx="758.4" cy="519.4" r="2.3" fill="#eca192"/><circle cx="766.2" cy="517.5" r="2.3" fill="#eca192"/><circle cx="762.3" cy="527.2" r="2.3" fill="#eca192"/><circle cx="762.3" cy="531.8" r="2.3" fill="#eca192"/><rect x="826.6" y="403.9" width="4.4" height="4.4" fill="#c9c97a"/><rect x="826.6" y="437.1" width="4.4" height="4.4" fill="#c9c97a"/><rect x="826.6" y="457.9" width="4.4" height="4.4" fill="#c9c97a"/><rect x="826.6" y="471.0" width="4.4" height="4.4" fill="#c9c97a"/><rect x="826.6" y="480.1" width="4.4" height="4.4" fill="#c9c97a"/><rect x="826.6" y="483.6" width="4.4" height="4.4" fill="#c9c97a"/><rect x="826.6" y="492.2" width="4.4" height="4.4" fill="#c9c97a"/><rect x="815.1" y="503.5" width="4.4" height="4.4" fill="#c9c97a"/><rect x="822.7" y="506.1" width="4.4" height="4.4" fill="#c9c97a"/><rect x="830.7" y="506.1" width="4.4" height="4.4" fill="#c9c97a"/><rect x="837.9" y="502.2" width="4.4" height="4.4" fill="#c9c97a"/><rect x="837.9" y="506.1" width="4.4" height="4.4" fill="#c9c97a"/><rect x="830.7" y="510.7" width="4.4" height="4.4" fill="#c9c97a"/><rect x="826.6" y="515.7" width="4.4" height="4.4" fill="#c9c97a"/><rect x="834.0" y="516.2" width="4.4" height="4.4" fill="#c9c97a"/><rect x="819.0" y="519.6" width="4.4" height="4.4" fill="#c9c97a"/><path d="M895.2 468.2L897.8 472.8L892.6 472.8Z" fill="#94cdd0"/><path d="M895.2 473.2L897.8 477.8L892.6 477.8Z" fill="#94cdd0"/><path d="M895.2 492.7L897.8 497.3L892.6 497.3Z" fill="#94cdd0"/><path d="M895.2 498.6L897.8 503.2L892.6 503.2Z" fill="#94cdd0"/><path d="M884.0 507.4L886.6 512.0L881.4 512.0Z" fill="#94cdd0"/><path d="M891.6 507.0L894.2 511.6L889.0 511.6Z" fill="#94cdd0"/><path d="M899.0 510.6L901.6 515.2L896.4 515.2Z" fill="#94cdd0"/><path d="M906.5 509.0L909.1 513.6L903.9 513.6Z" fill="#94cdd0"/><path d="M884.0 513.6L886.6 518.2L881.4 518.2Z" fill="#94cdd0"/><path d="M891.6 513.9L894.2 518.5L889.0 518.5Z" fill="#94cdd0"/><path d="M891.6 517.5L894.2 522.1L889.0 522.1Z" fill="#94cdd0"/><path d="M899.0 517.5L901.6 522.1L896.4 522.1Z" fill="#94cdd0"/><path d="M891.6 520.7L894.2 525.3L889.0 525.3Z" fill="#94cdd0"/><path d="M899.0 521.4L901.6 526.0L896.4 526.0Z" fill="#94cdd0"/><path d="M891.6 524.6L894.2 529.2L889.0 529.2Z" fill="#94cdd0"/><path d="M899.0 525.9L901.6 530.5L896.4 530.5Z" fill="#94cdd0"/><path d="M891.6 528.3L894.2 532.9L889.0 532.9Z" fill="#94cdd0"/><g stroke="#ec9684" stroke-width="1.4" fill="none"><rect x="740.0" y="479.7" width="44.6" height="27.0"/><path d="M740.0 497.7H784.6M762.3 479.7V390.4M750.9 390.4H773.7M762.3 506.6V531.8M750.9 531.8H773.7"/></g><g stroke="#c9cb55" stroke-width="1.4" fill="none"><rect x="806.5" y="476.2" width="44.6" height="35.0"/><path d="M806.5 505.5H851.1M828.8 476.2V406.1M817.4 406.1H840.2M828.8 511.2V521.8M817.4 521.8H840.2"/></g><g stroke="#98cdd4" stroke-width="1.4" fill="none"><rect x="872.9" y="503.5" width="44.6" height="19.8"/><path d="M872.9 514.5H917.5M895.2 503.5V470.8M883.8 470.8H906.6M895.2 523.3V530.5M883.8 530.5H906.6"/></g><path d="M718.4 346.9V533.9M710.4 533.9H940.2M710.4 533.9H718.4M710.4 496.5H718.4M710.4 459.1H718.4M710.4 421.7H718.4M710.4 384.3H718.4M710.4 346.9H718.4M762.6 533.9V541.9M828.7 533.9V541.9M895.0 533.9V541.9" stroke="#111" stroke-width="2" fill="none"/><text x="707.6" y="538.9" text-anchor="end" class="tk">0</text><text x="707.6" y="501.5" text-anchor="end" class="tk">2</text><text x="707.6" y="464.1" text-anchor="end" class="tk">4</text><text x="707.6" y="426.7" text-anchor="end" class="tk">6</text><text x="707.6" y="389.3" text-anchor="end" class="tk">8</text><text x="707.6" y="351.9" text-anchor="end" class="tk">10</text><text x="762.6" y="557.2" text-anchor="middle" class="xl">LUAD</text><text x="828.7" y="557.2" text-anchor="middle" class="xl">BPN</text><text x="895.0" y="557.2" text-anchor="middle" class="xl">HC</text><text transform="translate(680.4 440.4) rotate(-90)" text-anchor="middle" class="yt">hsa-miR-486-5p</text><path d="M758.9 342.1H888.7" stroke="#111" stroke-width="2.1"/><text x="823.0" y="338.5" text-anchor="middle" class="st">**</text><path d="M758.9 369.6H822.4" stroke="#111" stroke-width="2.1"/><text x="790.1" y="363.6" text-anchor="middle" class="ns">ns</text></g>
<g><circle cx="1049.9" cy="406.9" r="2.3" fill="#eca192"/><circle cx="1049.9" cy="426.2" r="2.3" fill="#eca192"/><circle cx="1049.9" cy="449.3" r="2.3" fill="#eca192"/><circle cx="1049.9" cy="467.3" r="2.3" fill="#eca192"/><circle cx="1046.0" cy="475.0" r="2.3" fill="#eca192"/><circle cx="1053.8" cy="475.6" r="2.3" fill="#eca192"/><circle cx="1049.9" cy="479.6" r="2.3" fill="#eca192"/><circle cx="1038.6" cy="488.0" r="2.3" fill="#eca192"/><circle cx="1046.0" cy="486.4" r="2.3" fill="#eca192"/><circle cx="1046.0" cy="490.1" r="2.3" fill="#eca192"/><circle cx="1053.8" cy="490.3" r="2.3" fill="#eca192"/><circle cx="1038.6" cy="494.9" r="2.3" fill="#eca192"/><circle cx="1046.0" cy="496.6" r="2.3" fill="#eca192"/><circle cx="1053.8" cy="497.5" r="2.3" fill="#eca192"/><circle cx="1061.4" cy="494.6" r="2.3" fill="#eca192"/><circle cx="1038.6" cy="502.7" r="2.3" fill="#eca192"/><circle cx="1046.0" cy="501.4" r="2.3" fill="#eca192"/><circle cx="1053.8" cy="504.7" r="2.3" fill="#eca192"/><circle cx="1046.0" cy="506.6" r="2.3" fill="#eca192"/><circle cx="1038.6" cy="512.5" r="2.3" fill="#eca192"/><circle cx="1046.0" cy="515.5" r="2.3" fill="#eca192"/><circle cx="1053.8" cy="514.8" r="2.3" fill="#eca192"/><circle cx="1053.8" cy="520.3" r="2.3" fill="#eca192"/><circle cx="1046.0" cy="522.6" r="2.3" fill="#eca192"/><circle cx="1046.0" cy="526.2" r="2.3" fill="#eca192"/><circle cx="1053.8" cy="526.2" r="2.3" fill="#eca192"/><circle cx="1061.4" cy="526.2" r="2.3" fill="#eca192"/><circle cx="1042.1" cy="533.3" r="2.3" fill="#eca192"/><circle cx="1049.9" cy="531.4" r="2.3" fill="#eca192"/><circle cx="1057.7" cy="531.8" r="2.3" fill="#eca192"/><rect x="1115.1" y="436.3" width="4.4" height="4.4" fill="#c9c97a"/><rect x="1115.1" y="442.5" width="4.4" height="4.4" fill="#c9c97a"/><rect x="1115.1" y="446.4" width="4.4" height="4.4" fill="#c9c97a"/><rect x="1115.1" y="450.3" width="4.4" height="4.4" fill="#c9c97a"/><rect x="1107.3" y="467.9" width="4.4" height="4.4" fill="#c9c97a"/><rect x="1115.1" y="466.6" width="4.4" height="4.4" fill="#c9c97a"/><rect x="1122.6" y="468.6" width="4.4" height="4.4" fill="#c9c97a"/><rect x="1111.2" y="479.3" width="4.4" height="4.4" fill="#c9c97a"/><rect x="1119.0" y="480.6" width="4.4" height="4.4" fill="#c9c97a"/><rect x="1115.1" y="486.6" width="4.4" height="4.4" fill="#c9c97a"/><rect x="1115.1" y="503.5" width="4.4" height="4.4" fill="#c9c97a"/><rect x="1111.2" y="507.9" width="4.4" height="4.4" fill="#c9c97a"/><rect x="1119.0" y="507.9" width="4.4" height="4.4" fill="#c9c97a"/><rect x="1115.1" y="518.4" width="4.4" height="4.4" fill="#c9c97a"/><rect x="1111.2" y="531.8" width="4.4" height="4.4" fill="#c9c97a"/><rect x="1119.0" y="530.9" width="4.4" height="4.4" fill="#c9c97a"/><path d="M1184.8 392.9L1187.4 397.5L1182.2 397.5Z" fill="#94cdd0"/><path d="M1180.9 453.2L1183.5 457.8L1178.3 457.8Z" fill="#94cdd0"/><path d="M1188.7 453.2L1191.3 457.8L1186.1 457.8Z" fill="#94cdd0"/><path d="M1180.9 466.6L1183.5 471.2L1178.3 471.2Z" fill="#94cdd0"/><path d="M1188.7 470.1L1191.3 474.7L1186.1 474.7Z" fill="#94cdd0"/><path d="M1184.8 474.4L1187.4 479.0L1182.2 479.0Z" fill="#94cdd0"/><path d="M1192.6 484.5L1195.2 489.1L1190.0 489.1Z" fill="#94cdd0"/><path d="M1184.8 487.7L1187.4 492.3L1182.2 492.3Z" fill="#94cdd0"/><path d="M1177.0 491.6L1179.6 496.2L1174.4 496.2Z" fill="#94cdd0"/><path d="M1184.8 494.9L1187.4 499.5L1182.2 499.5Z" fill="#94cdd0"/><path d="M1192.6 493.6L1195.2 498.2L1190.0 498.2Z" fill="#94cdd0"/><path d="M1184.8 504.4L1187.4 509.0L1182.2 509.0Z" fill="#94cdd0"/><path d="M1188.7 512.5L1191.3 517.1L1186.1 517.1Z" fill="#94cdd0"/><path d="M1180.9 515.1L1183.5 519.7L1178.3 519.7Z" fill="#94cdd0"/><path d="M1188.7 523.6L1191.3 528.2L1186.1 528.2Z" fill="#94cdd0"/><path d="M1180.9 526.8L1183.5 531.4L1178.3 531.4Z" fill="#94cdd0"/><g stroke="#ec9684" stroke-width="1.4" fill="none"><rect x="1027.6" y="484.5" width="44.6" height="35.6"/><path d="M1027.6 499.7H1072.2M1049.9 484.5V406.9M1038.5 406.9H1061.3M1049.9 520.0V533.3M1038.5 533.3H1061.3"/></g><g stroke="#c9cb55" stroke-width="1.4" fill="none"><rect x="1095.0" y="457.1" width="44.6" height="52.8"/><path d="M1095.0 482.1H1139.6M1117.3 457.1V438.5M1105.9 438.5H1128.7M1117.3 509.9V534.0M1105.9 534.0H1128.7"/></g><g stroke="#98cdd4" stroke-width="1.4" fill="none"><rect x="1162.5" y="470.4" width="44.6" height="41.8"/><path d="M1162.5 492.3H1207.1M1184.8 470.4V395.5M1173.4 395.5H1196.2M1184.8 512.2V529.4M1173.4 529.4H1196.2"/></g><path d="M1005.3 353.6V542.2M997.3 542.2H1230.6M997.3 542.2H1005.3M997.3 495.1H1005.3M997.3 447.9H1005.3M997.3 400.8H1005.3M997.3 353.6H1005.3M1049.7 542.2V550.2M1117.4 542.2V550.2M1184.5 542.2V550.2" stroke="#111" stroke-width="2" fill="none"/><text x="994.5" y="547.2" text-anchor="end" class="tk">0</text><text x="994.5" y="500.1" text-anchor="end" class="tk">1</text><text x="994.5" y="452.9" text-anchor="end" class="tk">2</text><text x="994.5" y="405.8" text-anchor="end" class="tk">3</text><text x="994.5" y="358.6" text-anchor="end" class="tk">4</text><text x="1049.7" y="565.5" text-anchor="middle" class="xl">LUAD</text><text x="1117.4" y="565.5" text-anchor="middle" class="xl">BPN</text><text x="1184.5" y="565.5" text-anchor="middle" class="xl">HC</text><text transform="translate(975.6 447.9) rotate(-90)" text-anchor="middle" class="yt">hsa-miR-320e</text><path d="M1050.1 333.2H1191.2" stroke="#111" stroke-width="2.1"/><text x="1117.4" y="327.2" text-anchor="middle" class="ns">ns</text><path d="M1050.1 358.8H1111.6" stroke="#111" stroke-width="2.1"/><text x="1080.7" y="352.8" text-anchor="middle" class="ns">ns</text></g>
<g><circle cx="1342.3" cy="374.8" r="2.3" fill="#eca192"/><circle cx="1342.3" cy="409.3" r="2.3" fill="#eca192"/><circle cx="1338.4" cy="417.8" r="2.3" fill="#eca192"/><circle cx="1346.2" cy="415.8" r="2.3" fill="#eca192"/><circle cx="1342.3" cy="428.8" r="2.3" fill="#eca192"/><circle cx="1342.3" cy="450.3" r="2.3" fill="#eca192"/><circle cx="1342.3" cy="458.6" r="2.3" fill="#eca192"/><circle cx="1338.4" cy="467.9" r="2.3" fill="#eca192"/><circle cx="1346.2" cy="467.9" r="2.3" fill="#eca192"/><circle cx="1346.2" cy="473.1" r="2.3" fill="#eca192"/><circle cx="1338.4" cy="475.1" r="2.3" fill="#eca192"/><circle cx="1346.2" cy="478.1" r="2.3" fill="#eca192"/><circle cx="1342.3" cy="502.2" r="2.3" fill="#eca192"/><circle cx="1346.2" cy="507.7" r="2.3" fill="#eca192"/><circle cx="1338.4" cy="510.7" r="2.3" fill="#eca192"/><circle cx="1330.8" cy="518.7" r="2.3" fill="#eca192"/><circle cx="1338.4" cy="520.7" r="2.3" fill="#eca192"/><circle cx="1346.2" cy="520.0" r="2.3" fill="#eca192"/><circle cx="1354.0" cy="518.7" r="2.3" fill="#eca192"/><circle cx="1342.3" cy="525.0" r="2.3" fill="#eca192"/><circle cx="1330.8" cy="530.2" r="2.3" fill="#eca192"/><circle cx="1346.2" cy="531.1" r="2.3" fill="#eca192"/><circle cx="1338.4" cy="533.7" r="2.3" fill="#eca192"/><circle cx="1330.8" cy="534.4" r="2.3" fill="#eca192"/><circle cx="1354.0" cy="535.0" r="2.3" fill="#eca192"/><circle cx="1330.8" cy="538.6" r="2.3" fill="#eca192"/><circle cx="1346.2" cy="537.6" r="2.3" fill="#eca192"/><circle cx="1338.4" cy="542.2" r="2.3" fill="#eca192"/><circle cx="1346.2" cy="542.5" r="2.3" fill="#eca192"/><circle cx="1354.0" cy="541.5" r="2.3" fill="#eca192"/><circle cx="1330.8" cy="544.2" r="2.3" fill="#eca192"/><rect x="1407.9" y="397.3" width="4.4" height="4.4" fill="#c9c97a"/><rect x="1407.9" y="409.1" width="4.4" height="4.4" fill="#c9c97a"/><rect x="1407.9" y="433.8" width="4.4" height="4.4" fill="#c9c97a"/><rect x="1404.0" y="439.7" width="4.4" height="4.4" fill="#c9c97a"/><rect x="1411.8" y="438.4" width="4.4" height="4.4" fill="#c9c97a"/><rect x="1407.9" y="445.1" width="4.4" height="4.4" fill="#c9c97a"/><rect x="1407.9" y="450.4" width="4.4" height="4.4" fill="#c9c97a"/><rect x="1411.8" y="454.0" width="4.4" height="4.4" fill="#c9c97a"/><rect x="1404.0" y="458.2" width="4.4" height="4.4" fill="#c9c97a"/><rect x="1404.0" y="492.4" width="4.4" height="4.4" fill="#c9c97a"/><rect x="1411.8" y="494.7" width="4.4" height="4.4" fill="#c9c97a"/><rect x="1407.9" y="509.4" width="4.4" height="4.4" fill="#c9c97a"/><rect x="1404.0" y="518.5" width="4.4" height="4.4" fill="#c9c97a"/><rect x="1411.8" y="517.6" width="4.4" height="4.4" fill="#c9c97a"/><rect x="1404.0" y="532.4" width="4.4" height="4.4" fill="#c9c97a"/><rect x="1411.8" y="532.2" width="4.4" height="4.4" fill="#c9c97a"/><path d="M1478.1 423.4L1480.7 428.0L1475.5 428.0Z" fill="#94cdd0"/><path d="M1474.2 451.7L1476.8 456.3L1471.6 456.3Z" fill="#94cdd0"/><path d="M1482.0 451.3L1484.6 455.9L1479.4 455.9Z" fill="#94cdd0"/><path d="M1478.1 462.5L1480.7 467.1L1475.5 467.1Z" fill="#94cdd0"/><path d="M1474.2 501.8L1476.8 506.4L1471.6 506.4Z" fill="#94cdd0"/><path d="M1482.0 499.5L1484.6 504.1L1479.4 504.1Z" fill="#94cdd0"/><path d="M1482.0 505.5L1484.6 510.1L1479.4 510.1Z" fill="#94cdd0"/><path d="M1474.2 509.0L1476.8 513.6L1471.6 513.6Z" fill="#94cdd0"/><path d="M1478.1 513.5L1480.7 518.1L1475.5 518.1Z" fill="#94cdd0"/><path d="M1474.2 517.4L1476.8 522.0L1471.6 522.0Z" fill="#94cdd0"/><path d="M1466.4 521.6L1469.0 526.2L1463.8 526.2Z" fill="#94cdd0"/><path d="M1482.0 521.6L1484.6 526.2L1479.4 526.2Z" fill="#94cdd0"/><path d="M1489.8 522.9L1492.4 527.5L1487.2 527.5Z" fill="#94cdd0"/><path d="M1474.2 525.3L1476.8 529.9L1471.6 529.9Z" fill="#94cdd0"/><path d="M1482.0 527.2L1484.6 531.8L1479.4 531.8Z" fill="#94cdd0"/><path d="M1478.1 538.0L1480.7 542.6L1475.5 542.6Z" fill="#94cdd0"/><g stroke="#ec9684" stroke-width="1.4" fill="none"><rect x="1320.0" y="466.0" width="44.6" height="66.4"/><path d="M1320.0 514.6H1364.6M1342.3 466.0V374.8M1330.9 374.8H1353.7M1342.3 532.4V544.2M1330.9 544.2H1353.7"/></g><g stroke="#c9cb55" stroke-width="1.4" fill="none"><rect x="1387.8" y="441.5" width="44.6" height="75.3"/><path d="M1387.8 457.9H1432.4M1410.1 441.5V399.5M1398.7 399.5H1421.5M1410.1 516.8V534.6M1398.7 534.6H1421.5"/></g><g stroke="#98cdd4" stroke-width="1.4" fill="none"><rect x="1455.8" y="474.2" width="44.6" height="50.4"/><path d="M1455.8 513.5H1500.4M1478.1 474.2V426.0M1466.7 426.0H1489.5M1478.1 524.6V540.6M1466.7 540.6H1489.5"/></g><path d="M1297.1 353.7V544.3M1289.1 544.3H1524.1M1289.1 544.3H1297.1M1289.1 480.8H1297.1M1289.1 417.2H1297.1M1289.1 353.7H1297.1M1342.3 544.3V552.3M1410.2 544.3V552.3M1478.3 544.3V552.3" stroke="#111" stroke-width="2" fill="none"/><text x="1286.3" y="549.3" text-anchor="end" class="tk">0</text><text x="1286.3" y="485.8" text-anchor="end" class="tk">2</text><text x="1286.3" y="422.2" text-anchor="end" class="tk">4</text><text x="1286.3" y="358.7" text-anchor="end" class="tk">6</text><text x="1342.3" y="567.6" text-anchor="middle" class="xl">LUAD</text><text x="1410.2" y="567.6" text-anchor="middle" class="xl">BPN</text><text x="1478.3" y="567.6" text-anchor="middle" class="xl">HC</text><text transform="translate(1267.4 449.0) rotate(-90)" text-anchor="middle" class="yt">hsa-miR-3158-3p</text><path d="M1343.0 332.6H1485.5" stroke="#111" stroke-width="2.1"/><text x="1411.0" y="326.6" text-anchor="middle" class="ns">ns</text><path d="M1343.0 359.0H1405.2" stroke="#111" stroke-width="2.1"/><text x="1374.0" y="353.0" text-anchor="middle" class="ns">ns</text></g>
<g><circle cx="139.7" cy="710.0" r="2.3" fill="#eca192"/><circle cx="139.7" cy="737.3" r="2.3" fill="#eca192"/><circle cx="139.7" cy="764.3" r="2.3" fill="#eca192"/><circle cx="139.7" cy="769.0" r="2.3" fill="#eca192"/><circle cx="139.7" cy="774.2" r="2.3" fill="#eca192"/><circle cx="135.8" cy="782.9" r="2.3" fill="#eca192"/><circle cx="143.6" cy="783.6" r="2.3" fill="#eca192"/><circle cx="124.0" cy="789.4" r="2.3" fill="#eca192"/><circle cx="139.7" cy="791.4" r="2.3" fill="#eca192"/><circle cx="147.5" cy="792.7" r="2.3" fill="#eca192"/><circle cx="155.3" cy="789.0" r="2.3" fill="#eca192"/><circle cx="155.3" cy="796.9" r="2.3" fill="#eca192"/><circle cx="124.0" cy="802.1" r="2.3" fill="#eca192"/><circle cx="131.8" cy="800.2" r="2.3" fill="#eca192"/><circle cx="139.7" cy="798.6" r="2.3" fill="#eca192"/><circle cx="147.5" cy="798.6" r="2.3" fill="#eca192"/><circle cx="155.3" cy="801.8" r="2.3" fill="#eca192"/><circle cx="131.8" cy="805.1" r="2.3" fill="#eca192"/><circle cx="139.7" cy="805.7" r="2.3" fill="#eca192"/><circle cx="124.0" cy="810.3" r="2.3" fill="#eca192"/><circle cx="131.8" cy="809.0" r="2.3" fill="#eca192"/><circle cx="139.7" cy="809.6" r="2.3" fill="#eca192"/><circle cx="147.5" cy="808.3" r="2.3" fill="#eca192"/><circle cx="155.3" cy="807.7" r="2.3" fill="#eca192"/><circle cx="131.8" cy="812.9" r="2.3" fill="#eca192"/><circle cx="139.7" cy="813.5" r="2.3" fill="#eca192"/><circle cx="147.5" cy="813.5" r="2.3" fill="#eca192"/><circle cx="155.3" cy="812.9" r="2.3" fill="#eca192"/><circle cx="124.0" cy="816.1" r="2.3" fill="#eca192"/><circle cx="139.7" cy="816.1" r="2.3" fill="#eca192"/><circle cx="155.3" cy="816.4" r="2.3" fill="#eca192"/><rect x="205.9" y="671.7" width="4.4" height="4.4" fill="#c9c97a"/><rect x="205.9" y="718.2" width="4.4" height="4.4" fill="#c9c97a"/><rect x="205.9" y="770.9" width="4.4" height="4.4" fill="#c9c97a"/><rect x="205.9" y="783.7" width="4.4" height="4.4" fill="#c9c97a"/><rect x="205.9" y="788.5" width="4.4" height="4.4" fill="#c9c97a"/><rect x="205.9" y="794.4" width="4.4" height="4.4" fill="#c9c97a"/><rect x="190.5" y="799.9" width="4.4" height="4.4" fill="#c9c97a"/><rect x="198.3" y="799.0" width="4.4" height="4.4" fill="#c9c97a"/><rect x="205.9" y="800.3" width="4.4" height="4.4" fill="#c9c97a"/><rect x="213.7" y="799.9" width="4.4" height="4.4" fill="#c9c97a"/><rect x="221.5" y="799.9" width="4.4" height="4.4" fill="#c9c97a"/><rect x="198.3" y="805.5" width="4.4" height="4.4" fill="#c9c97a"/><rect x="205.9" y="812.0" width="4.4" height="4.4" fill="#c9c97a"/><rect x="213.7" y="809.4" width="4.4" height="4.4" fill="#c9c97a"/><rect x="213.7" y="813.9" width="4.4" height="4.4" fill="#c9c97a"/><rect x="198.3" y="816.5" width="4.4" height="4.4" fill="#c9c97a"/><path d="M276.7 749.0L279.3 753.6L274.1 753.6Z" fill="#94cdd0"/><path d="M276.7 760.4L279.3 765.0L274.1 765.0Z" fill="#94cdd0"/><path d="M276.7 781.0L279.3 785.6L274.1 785.6Z" fill="#94cdd0"/><path d="M264.4 791.4L267.0 796.0L261.8 796.0Z" fill="#94cdd0"/><path d="M272.8 791.4L275.4 796.0L270.2 796.0Z" fill="#94cdd0"/><path d="M289.1 790.7L291.7 795.3L286.5 795.3Z" fill="#94cdd0"/><path d="M256.5 794.6L259.1 799.2L253.9 799.2Z" fill="#94cdd0"/><path d="M264.4 794.6L267.0 799.2L261.8 799.2Z" fill="#94cdd0"/><path d="M272.8 794.6L275.4 799.2L270.2 799.2Z" fill="#94cdd0"/><path d="M280.6 795.0L283.2 799.6L278.0 799.6Z" fill="#94cdd0"/><path d="M289.1 794.6L291.7 799.2L286.5 799.2Z" fill="#94cdd0"/><path d="M296.9 795.0L299.5 799.6L294.3 799.6Z" fill="#94cdd0"/><path d="M272.8 802.1L275.4 806.7L270.2 806.7Z" fill="#94cdd0"/><path d="M280.6 803.1L283.2 807.7L278.0 807.7Z" fill="#94cdd0"/><path d="M289.1 801.2L291.7 805.8L286.5 805.8Z" fill="#94cdd0"/><path d="M276.7 809.9L279.3 814.5L274.1 814.5Z" fill="#94cdd0"/><g stroke="#ec9684" stroke-width="1.4" fill="none"><rect x="117.4" y="788.1" width="44.6" height="20.8"/><path d="M117.4 801.4H162.0M139.7 788.1V710.0M128.3 710.0H151.1M139.7 809.0V817.2M128.3 817.2H151.1"/></g><g stroke="#c9cb55" stroke-width="1.4" fill="none"><rect x="185.8" y="787.9" width="44.6" height="22.0"/><path d="M185.8 802.1H230.4M208.1 787.9V673.9M196.7 673.9H219.5M208.1 809.9V818.7M196.7 818.7H219.5"/></g><g stroke="#98cdd4" stroke-width="1.4" fill="none"><rect x="254.4" y="793.7" width="44.6" height="7.8"/><path d="M254.4 797.2H299.0M276.7 793.7V751.6M265.3 751.6H288.1M276.7 801.5V812.5M265.3 812.5H288.1"/></g><path d="M94.9 627.1V820.4M86.9 820.4H322.9M86.9 820.4H94.9M86.9 772.1H94.9M86.9 723.8H94.9M86.9 675.4H94.9M86.9 627.1H94.9M139.7 820.4V828.4M207.8 820.4V828.4M276.8 820.4V828.4" stroke="#111" stroke-width="2" fill="none"/><text x="84.1" y="825.4" text-anchor="end" class="tk">0</text><text x="84.1" y="777.1" text-anchor="end" class="tk">2</text><text x="84.1" y="728.8" text-anchor="end" class="tk">4</text><text x="84.1" y="680.4" text-anchor="end" class="tk">6</text><text x="84.1" y="632.1" text-anchor="end" class="tk">8</text><text x="139.7" y="843.7" text-anchor="middle" class="xl">LUAD</text><text x="207.8" y="843.7" text-anchor="middle" class="xl">BPN</text><text x="276.8" y="843.7" text-anchor="middle" class="xl">HC</text><text transform="translate(65.6 723.8) rotate(-90)" text-anchor="middle" class="yt">hsa-miR-181b-5p</text><path d="M140.7 606.3H284.6" stroke="#111" stroke-width="2.1"/><text x="209.1" y="600.3" text-anchor="middle" class="ns">ns</text><path d="M140.7 633.0H202.6" stroke="#111" stroke-width="2.1"/><text x="171.4" y="627.0" text-anchor="middle" class="ns">ns</text></g>
<g><circle cx="462.2" cy="681.1" r="2.3" fill="#eca192"/><circle cx="462.2" cy="759.7" r="2.3" fill="#eca192"/><circle cx="462.2" cy="766.4" r="2.3" fill="#eca192"/><circle cx="453.9" cy="778.6" r="2.3" fill="#eca192"/><circle cx="470.4" cy="779.2" r="2.3" fill="#eca192"/><circle cx="462.2" cy="781.5" r="2.3" fill="#eca192"/><circle cx="450.0" cy="786.8" r="2.3" fill="#eca192"/><circle cx="474.7" cy="787.3" r="2.3" fill="#eca192"/><circle cx="458.1" cy="789.6" r="2.3" fill="#eca192"/><circle cx="466.1" cy="791.2" r="2.3" fill="#eca192"/><circle cx="474.7" cy="790.9" r="2.3" fill="#eca192"/><circle cx="450.0" cy="797.2" r="2.3" fill="#eca192"/><circle cx="458.1" cy="799.8" r="2.3" fill="#eca192"/><circle cx="466.1" cy="799.4" r="2.3" fill="#eca192"/><circle cx="458.1" cy="803.7" r="2.3" fill="#eca192"/><circle cx="474.7" cy="803.7" r="2.3" fill="#eca192"/><circle cx="450.0" cy="807.6" r="2.3" fill="#eca192"/><circle cx="474.7" cy="808.5" r="2.3" fill="#eca192"/><circle cx="441.8" cy="812.4" r="2.3" fill="#eca192"/><circle cx="450.0" cy="811.5" r="2.3" fill="#eca192"/><circle cx="458.1" cy="813.7" r="2.3" fill="#eca192"/><circle cx="466.1" cy="814.4" r="2.3" fill="#eca192"/><circle cx="474.7" cy="813.7" r="2.3" fill="#eca192"/><circle cx="450.0" cy="819.6" r="2.3" fill="#eca192"/><circle cx="458.1" cy="818.3" r="2.3" fill="#eca192"/><circle cx="466.1" cy="818.9" r="2.3" fill="#eca192"/><circle cx="474.7" cy="818.9" r="2.3" fill="#eca192"/><circle cx="458.1" cy="824.2" r="2.3" fill="#eca192"/><circle cx="466.1" cy="822.2" r="2.3" fill="#eca192"/><rect x="527.8" y="692.7" width="4.4" height="4.4" fill="#c9c97a"/><rect x="527.8" y="747.3" width="4.4" height="4.4" fill="#c9c97a"/><rect x="527.8" y="763.3" width="4.4" height="4.4" fill="#c9c97a"/><rect x="527.8" y="780.7" width="4.4" height="4.4" fill="#c9c97a"/><rect x="527.8" y="794.6" width="4.4" height="4.4" fill="#c9c97a"/><rect x="507.7" y="801.1" width="4.4" height="4.4" fill="#c9c97a"/><rect x="515.1" y="801.8" width="4.4" height="4.4" fill="#c9c97a"/><rect x="523.4" y="801.8" width="4.4" height="4.4" fill="#c9c97a"/><rect x="531.7" y="802.4" width="4.4" height="4.4" fill="#c9c97a"/><rect x="539.9" y="801.5" width="4.4" height="4.4" fill="#c9c97a"/><rect x="547.7" y="801.8" width="4.4" height="4.4" fill="#c9c97a"/><rect x="527.8" y="810.2" width="4.4" height="4.4" fill="#c9c97a"/><rect x="527.8" y="814.8" width="4.4" height="4.4" fill="#c9c97a"/><rect x="523.4" y="818.4" width="4.4" height="4.4" fill="#c9c97a"/><rect x="531.7" y="819.7" width="4.4" height="4.4" fill="#c9c97a"/><rect x="527.8" y="824.6" width="4.4" height="4.4" fill="#c9c97a"/><path d="M597.7 652.2L600.3 656.8L595.1 656.8Z" fill="#94cdd0"/><path d="M597.7 667.2L600.3 671.8L595.1 671.8Z" fill="#94cdd0"/><path d="M597.7 754.5L600.3 759.1L595.1 759.1Z" fill="#94cdd0"/><path d="M597.7 777.3L600.3 781.9L595.1 781.9Z" fill="#94cdd0"/><path d="M597.7 780.5L600.3 785.1L595.1 785.1Z" fill="#94cdd0"/><path d="M582.5 790.3L585.1 794.9L579.9 794.9Z" fill="#94cdd0"/><path d="M589.9 790.3L592.5 794.9L587.3 794.9Z" fill="#94cdd0"/><path d="M582.5 794.8L585.1 799.4L579.9 799.4Z" fill="#94cdd0"/><path d="M589.9 794.8L592.5 799.4L587.3 799.4Z" fill="#94cdd0"/><path d="M597.7 794.2L600.3 798.8L595.1 798.8Z" fill="#94cdd0"/><path d="M605.3 797.2L607.9 801.8L602.7 801.8Z" fill="#94cdd0"/><path d="M613.1 794.6L615.7 799.2L610.5 799.2Z" fill="#94cdd0"/><path d="M597.7 799.4L600.3 804.0L595.1 804.0Z" fill="#94cdd0"/><path d="M597.7 804.0L600.3 808.6L595.1 808.6Z" fill="#94cdd0"/><path d="M597.7 807.2L600.3 811.8L595.1 811.8Z" fill="#94cdd0"/><path d="M597.7 815.4L600.3 820.0L595.1 820.0Z" fill="#94cdd0"/><g stroke="#ec9684" stroke-width="1.4" fill="none"><rect x="439.9" y="787.7" width="44.6" height="26.7"/><path d="M439.9 803.7H484.5M462.2 787.7V681.1M450.8 681.1H473.6M462.2 814.4V824.2M450.8 824.2H473.6"/></g><g stroke="#c9cb55" stroke-width="1.4" fill="none"><rect x="507.7" y="787.0" width="44.6" height="27.4"/><path d="M507.7 803.7H552.3M530.0 787.0V694.9M518.6 694.9H541.4M530.0 814.4V826.8M518.6 826.8H541.4"/></g><g stroke="#98cdd4" stroke-width="1.4" fill="none"><rect x="575.4" y="779.9" width="44.6" height="19.9"/><path d="M575.4 796.8H620.0M597.7 779.9V654.8M586.3 654.8H609.1M597.7 799.8V818.0M586.3 818.0H609.1"/></g><path d="M417.4 636.9V827.9M409.4 827.9H643.8M409.4 827.9H417.4M409.4 789.7H417.4M409.4 751.5H417.4M409.4 713.3H417.4M409.4 675.1H417.4M409.4 636.9H417.4M462.2 827.9V835.9M529.9 827.9V835.9M598.1 827.9V835.9" stroke="#111" stroke-width="2" fill="none"/><text x="406.6" y="832.9" text-anchor="end" class="tk">0</text><text x="406.6" y="794.7" text-anchor="end" class="tk">1</text><text x="406.6" y="756.5" text-anchor="end" class="tk">2</text><text x="406.6" y="718.3" text-anchor="end" class="tk">3</text><text x="406.6" y="680.1" text-anchor="end" class="tk">4</text><text x="406.6" y="641.9" text-anchor="end" class="tk">5</text><text x="462.2" y="851.2" text-anchor="middle" class="xl">LUAD</text><text x="529.9" y="851.2" text-anchor="middle" class="xl">BPN</text><text x="598.1" y="851.2" text-anchor="middle" class="xl">HC</text><text transform="translate(387.5 732.4) rotate(-90)" text-anchor="middle" class="yt">hsa-miR-24-3p</text><path d="M462.6 616.3H605.4" stroke="#111" stroke-width="2.1"/><text x="529.9" y="610.3" text-anchor="middle" class="ns">ns</text><path d="M462.6 642.8H524.7" stroke="#111" stroke-width="2.1"/><text x="493.9" y="636.8" text-anchor="middle" class="ns">ns</text></g>
<g><circle cx="762.9" cy="690.8" r="2.3" fill="#eca192"/><circle cx="755.1" cy="694.0" r="2.3" fill="#eca192"/><circle cx="762.9" cy="695.9" r="2.3" fill="#eca192"/><circle cx="759.0" cy="710.2" r="2.3" fill="#eca192"/><circle cx="759.0" cy="720.4" r="2.3" fill="#eca192"/><circle cx="759.0" cy="736.0" r="2.3" fill="#eca192"/><circle cx="755.1" cy="744.9" r="2.3" fill="#eca192"/><circle cx="762.9" cy="744.9" r="2.3" fill="#eca192"/><circle cx="762.9" cy="752.9" r="2.3" fill="#eca192"/><circle cx="755.1" cy="755.9" r="2.3" fill="#eca192"/><circle cx="759.0" cy="775.3" r="2.3" fill="#eca192"/><circle cx="762.9" cy="781.9" r="2.3" fill="#eca192"/><circle cx="762.9" cy="785.5" r="2.3" fill="#eca192"/><circle cx="770.7" cy="785.5" r="2.3" fill="#eca192"/><circle cx="747.5" cy="787.9" r="2.3" fill="#eca192"/><circle cx="755.1" cy="789.2" r="2.3" fill="#eca192"/><circle cx="755.1" cy="795.7" r="2.3" fill="#eca192"/><circle cx="762.9" cy="796.2" r="2.3" fill="#eca192"/><circle cx="770.7" cy="797.0" r="2.3" fill="#eca192"/><circle cx="755.1" cy="799.2" r="2.3" fill="#eca192"/><circle cx="747.5" cy="801.8" r="2.3" fill="#eca192"/><circle cx="755.1" cy="805.7" r="2.3" fill="#eca192"/><circle cx="762.9" cy="805.0" r="2.3" fill="#eca192"/><circle cx="747.5" cy="809.0" r="2.3" fill="#eca192"/><circle cx="770.7" cy="807.9" r="2.3" fill="#eca192"/><circle cx="747.5" cy="812.2" r="2.3" fill="#eca192"/><circle cx="755.1" cy="812.9" r="2.3" fill="#eca192"/><circle cx="762.9" cy="811.3" r="2.3" fill="#eca192"/><circle cx="759.0" cy="820.0" r="2.3" fill="#eca192"/><circle cx="759.0" cy="823.9" r="2.3" fill="#eca192"/><rect x="824.8" y="656.9" width="4.4" height="4.4" fill="#c9c97a"/><rect x="824.8" y="718.2" width="4.4" height="4.4" fill="#c9c97a"/><rect x="824.8" y="723.6" width="4.4" height="4.4" fill="#c9c97a"/><rect x="828.7" y="729.2" width="4.4" height="4.4" fill="#c9c97a"/><rect x="820.9" y="732.8" width="4.4" height="4.4" fill="#c9c97a"/><rect x="824.8" y="737.7" width="4.4" height="4.4" fill="#c9c97a"/><rect x="824.8" y="753.3" width="4.4" height="4.4" fill="#c9c97a"/><rect x="824.8" y="769.4" width="4.4" height="4.4" fill="#c9c97a"/><rect x="824.8" y="789.8" width="4.4" height="4.4" fill="#c9c97a"/><rect x="824.8" y="795.0" width="4.4" height="4.4" fill="#c9c97a"/><rect x="820.9" y="806.5" width="4.4" height="4.4" fill="#c9c97a"/><rect x="828.7" y="809.1" width="4.4" height="4.4" fill="#c9c97a"/><rect x="828.7" y="814.6" width="4.4" height="4.4" fill="#c9c97a"/><rect x="820.9" y="818.5" width="4.4" height="4.4" fill="#c9c97a"/><rect x="828.7" y="819.5" width="4.4" height="4.4" fill="#c9c97a"/><rect x="824.8" y="825.3" width="4.4" height="4.4" fill="#c9c97a"/><path d="M895.0 724.9L897.6 729.5L892.4 729.5Z" fill="#94cdd0"/><path d="M895.0 734.4L897.6 739.0L892.4 739.0Z" fill="#94cdd0"/><path d="M890.9 744.9L893.5 749.5L888.3 749.5Z" fill="#94cdd0"/><path d="M898.9 744.1L901.5 748.7L896.3 748.7Z" fill="#94cdd0"/><path d="M895.0 754.5L897.6 759.1L892.4 759.1Z" fill="#94cdd0"/><path d="M895.0 764.9L897.6 769.5L892.4 769.5Z" fill="#94cdd0"/><path d="M895.0 769.9L897.6 774.5L892.4 774.5Z" fill="#94cdd0"/><path d="M887.2 794.6L889.8 799.2L884.6 799.2Z" fill="#94cdd0"/><path d="M895.0 795.3L897.6 799.9L892.4 799.9Z" fill="#94cdd0"/><path d="M895.0 799.2L897.6 803.8L892.4 803.8Z" fill="#94cdd0"/><path d="M887.2 801.1L889.8 805.7L884.6 805.7Z" fill="#94cdd0"/><path d="M902.9 800.5L905.5 805.1L900.3 805.1Z" fill="#94cdd0"/><path d="M890.9 806.6L893.5 811.2L888.3 811.2Z" fill="#94cdd0"/><path d="M898.9 805.7L901.5 810.3L896.3 810.3Z" fill="#94cdd0"/><path d="M895.0 814.2L897.6 818.8L892.4 818.8Z" fill="#94cdd0"/><path d="M895.0 817.8L897.6 822.4L892.4 822.4Z" fill="#94cdd0"/><g stroke="#ec9684" stroke-width="1.4" fill="none"><rect x="736.7" y="744.9" width="44.6" height="61.1"/><path d="M736.7 788.4H781.3M759.0 744.9V690.8M747.6 690.8H770.4M759.0 806.0V823.9M747.6 823.9H770.4"/></g><g stroke="#c9cb55" stroke-width="1.4" fill="none"><rect x="804.7" y="733.0" width="44.6" height="82.5"/><path d="M804.7 782.2H849.3M827.0 733.0V659.1M815.6 659.1H838.4M827.0 815.5V828.5M815.6 828.5H838.4"/></g><g stroke="#98cdd4" stroke-width="1.4" fill="none"><rect x="872.7" y="750.1" width="44.6" height="56.0"/><path d="M872.7 797.5H917.3M895.0 750.1V727.5M883.6 727.5H906.4M895.0 806.1V820.4M883.6 820.4H906.4"/></g><path d="M714.0 638.6V829.3M706.0 829.3H943.8M706.0 829.3H714.0M706.0 791.2H714.0M706.0 753.0H714.0M706.0 714.9H714.0M706.0 676.7H714.0M706.0 638.6H714.0M759.1 829.3V837.3M826.8 829.3V837.3M894.6 829.3V837.3" stroke="#111" stroke-width="2" fill="none"/><text x="703.2" y="834.3" text-anchor="end" class="tk">0</text><text x="703.2" y="796.2" text-anchor="end" class="tk">1</text><text x="703.2" y="758.0" text-anchor="end" class="tk">2</text><text x="703.2" y="719.9" text-anchor="end" class="tk">3</text><text x="703.2" y="681.7" text-anchor="end" class="tk">4</text><text x="703.2" y="643.6" text-anchor="end" class="tk">5</text><text x="759.1" y="852.6" text-anchor="middle" class="xl">LUAD</text><text x="826.8" y="852.6" text-anchor="middle" class="xl">BPN</text><text x="894.6" y="852.6" text-anchor="middle" class="xl">HC</text><text transform="translate(683.0 734.0) rotate(-90)" text-anchor="middle" class="yt">hsa-miR-145-3p</text><path d="M759.5 617.3H902.7" stroke="#111" stroke-width="2.1"/><text x="827.9" y="611.3" text-anchor="middle" class="ns">ns</text><path d="M759.5 643.8H821.6" stroke="#111" stroke-width="2.1"/><text x="790.7" y="637.8" text-anchor="middle" class="ns">ns</text></g>
<g><circle cx="1049.3" cy="701.3" r="2.3" fill="#eca192"/><circle cx="1049.3" cy="713.0" r="2.3" fill="#eca192"/><circle cx="1049.3" cy="722.1" r="2.3" fill="#eca192"/><circle cx="1049.3" cy="745.3" r="2.3" fill="#eca192"/><circle cx="1049.3" cy="760.9" r="2.3" fill="#eca192"/><circle cx="1049.3" cy="770.1" r="2.3" fill="#eca192"/><circle cx="1041.5" cy="784.7" r="2.3" fill="#eca192"/><circle cx="1041.5" cy="787.9" r="2.3" fill="#eca192"/><circle cx="1057.1" cy="786.0" r="2.3" fill="#eca192"/><circle cx="1049.3" cy="797.4" r="2.3" fill="#eca192"/><circle cx="1041.5" cy="804.6" r="2.3" fill="#eca192"/><circle cx="1049.3" cy="804.9" r="2.3" fill="#eca192"/><circle cx="1057.1" cy="803.2" r="2.3" fill="#eca192"/><circle cx="1064.9" cy="803.2" r="2.3" fill="#eca192"/><circle cx="1049.3" cy="809.7" r="2.3" fill="#eca192"/><circle cx="1057.1" cy="808.1" r="2.3" fill="#eca192"/><circle cx="1033.7" cy="814.6" r="2.3" fill="#eca192"/><circle cx="1041.5" cy="813.3" r="2.3" fill="#eca192"/><circle cx="1057.1" cy="812.0" r="2.3" fill="#eca192"/><circle cx="1064.9" cy="814.9" r="2.3" fill="#eca192"/><circle cx="1041.5" cy="817.9" r="2.3" fill="#eca192"/><circle cx="1049.3" cy="816.2" r="2.3" fill="#eca192"/><circle cx="1057.1" cy="816.6" r="2.3" fill="#eca192"/><circle cx="1064.9" cy="818.5" r="2.3" fill="#eca192"/><circle cx="1041.5" cy="821.8" r="2.3" fill="#eca192"/><circle cx="1049.3" cy="820.9" r="2.3" fill="#eca192"/><circle cx="1064.9" cy="820.5" r="2.3" fill="#eca192"/><circle cx="1049.3" cy="825.0" r="2.3" fill="#eca192"/><circle cx="1057.1" cy="824.0" r="2.3" fill="#eca192"/><circle cx="1033.7" cy="827.0" r="2.3" fill="#eca192"/><circle cx="1064.9" cy="827.7" r="2.3" fill="#eca192"/><rect x="1115.8" y="750.8" width="4.4" height="4.4" fill="#c9c97a"/><rect x="1115.8" y="758.4" width="4.4" height="4.4" fill="#c9c97a"/><rect x="1115.8" y="771.4" width="4.4" height="4.4" fill="#c9c97a"/><rect x="1115.8" y="777.0" width="4.4" height="4.4" fill="#c9c97a"/><rect x="1115.8" y="787.7" width="4.4" height="4.4" fill="#c9c97a"/><rect x="1108.0" y="808.3" width="4.4" height="4.4" fill="#c9c97a"/><rect x="1115.8" y="808.3" width="4.4" height="4.4" fill="#c9c97a"/><rect x="1123.6" y="807.5" width="4.4" height="4.4" fill="#c9c97a"/><rect x="1123.6" y="812.4" width="4.4" height="4.4" fill="#c9c97a"/><rect x="1115.8" y="814.8" width="4.4" height="4.4" fill="#c9c97a"/><rect x="1131.4" y="817.0" width="4.4" height="4.4" fill="#c9c97a"/><rect x="1108.0" y="819.2" width="4.4" height="4.4" fill="#c9c97a"/><rect x="1115.8" y="820.2" width="4.4" height="4.4" fill="#c9c97a"/><rect x="1123.6" y="820.9" width="4.4" height="4.4" fill="#c9c97a"/><rect x="1100.1" y="822.8" width="4.4" height="4.4" fill="#c9c97a"/><rect x="1131.4" y="823.1" width="4.4" height="4.4" fill="#c9c97a"/><path d="M1186.6 675.9L1189.2 680.5L1184.0 680.5Z" fill="#94cdd0"/><path d="M1186.6 753.7L1189.2 758.3L1184.0 758.3Z" fill="#94cdd0"/><path d="M1186.6 783.6L1189.2 788.2L1184.0 788.2Z" fill="#94cdd0"/><path d="M1186.6 787.9L1189.2 792.5L1184.0 792.5Z" fill="#94cdd0"/><path d="M1182.7 796.4L1185.3 801.0L1180.1 801.0Z" fill="#94cdd0"/><path d="M1190.6 795.1L1193.2 799.7L1188.0 799.7Z" fill="#94cdd0"/><path d="M1174.9 799.6L1177.5 804.2L1172.3 804.2Z" fill="#94cdd0"/><path d="M1182.7 801.6L1185.3 806.2L1180.1 806.2Z" fill="#94cdd0"/><path d="M1190.6 800.3L1193.2 804.9L1188.0 804.9Z" fill="#94cdd0"/><path d="M1198.4 799.6L1201.0 804.2L1195.8 804.2Z" fill="#94cdd0"/><path d="M1186.6 805.3L1189.2 809.9L1184.0 809.9Z" fill="#94cdd0"/><path d="M1174.9 810.7L1177.5 815.3L1172.3 815.3Z" fill="#94cdd0"/><path d="M1182.7 814.6L1185.3 819.2L1180.1 819.2Z" fill="#94cdd0"/><path d="M1190.6 814.6L1193.2 819.2L1188.0 819.2Z" fill="#94cdd0"/><path d="M1186.6 820.5L1189.2 825.1L1184.0 825.1Z" fill="#94cdd0"/><path d="M1186.6 822.8L1189.2 827.4L1184.0 827.4Z" fill="#94cdd0"/><g stroke="#ec9684" stroke-width="1.4" fill="none"><rect x="1027.0" y="786.2" width="44.6" height="31.9"/><path d="M1027.0 808.4H1071.6M1049.3 786.2V701.3M1037.9 701.3H1060.7M1049.3 818.1V827.7M1037.9 827.7H1060.7"/></g><g stroke="#c9cb55" stroke-width="1.4" fill="none"><rect x="1095.7" y="782.3" width="44.6" height="39.9"/><path d="M1095.7 813.3H1140.3M1118.0 782.3V753.0M1106.6 753.0H1129.4M1118.0 822.2V825.0M1106.6 825.0H1129.4"/></g><g stroke="#98cdd4" stroke-width="1.4" fill="none"><rect x="1164.3" y="792.2" width="44.6" height="23.1"/><path d="M1164.3 802.5H1208.9M1186.6 792.2V678.5M1175.2 678.5H1198.0M1186.6 815.3V825.4M1175.2 825.4H1198.0"/></g><path d="M1003.6 635.5V829.3M995.6 829.3H1232.0M995.6 829.3H1003.6M995.6 780.8H1003.6M995.6 732.4H1003.6M995.6 684.0H1003.6M995.6 635.5H1003.6M1049.0 829.3V837.3M1117.8 829.3V837.3M1186.6 829.3V837.3" stroke="#111" stroke-width="2" fill="none"/><text x="992.8" y="834.3" text-anchor="end" class="tk">0</text><text x="992.8" y="785.8" text-anchor="end" class="tk">2</text><text x="992.8" y="737.4" text-anchor="end" class="tk">4</text><text x="992.8" y="689.0" text-anchor="end" class="tk">6</text><text x="992.8" y="640.5" text-anchor="end" class="tk">8</text><text x="1049.0" y="852.6" text-anchor="middle" class="xl">LUAD</text><text x="1117.8" y="852.6" text-anchor="middle" class="xl">BPN</text><text x="1186.6" y="852.6" text-anchor="middle" class="xl">HC</text><text transform="translate(972.6 732.4) rotate(-90)" text-anchor="middle" class="yt">hsa-miR-548e-3p</text><path d="M1045.9 640.2H1190.2" stroke="#111" stroke-width="2.1"/><text x="1114.7" y="634.2" text-anchor="middle" class="ns">ns</text><path d="M1045.9 666.7H1108.5" stroke="#111" stroke-width="2.1"/><text x="1077.2" y="660.7" text-anchor="middle" class="ns">ns</text></g>
<g><path d="M125.4 1131.3H366.6M125.4 1083.1H366.6M125.4 1034.8H366.6M125.4 986.6H366.6M125.4 938.3H366.6" stroke="#d4d4d4" stroke-width="1.1" fill="none"/><path d="M125.4 938.3V1179.6" stroke="#a8a8a8" stroke-width="1.1"/><path d="M125.4 1179.6H366.6" stroke="#9a9a9a" stroke-width="1.6"/><path d="M125.4 1179.6L366.6 938.3" stroke="#6f9f97" stroke-width="1.3" fill="none"/><polyline points="125.4,1179.6 125.4,1139.3 140.5,1139.3 140.5,1042.8 155.6,1042.8 155.6,1026.9 192.9,1026.9 192.9,1018.7 215.9,1018.7 215.9,1010.7 246.0,1010.7 246.0,954.5 336.7,954.5 336.7,946.3 359.4,946.3 359.4,938.3 366.6,938.3" stroke="#88bbe3" stroke-width="1.5" fill="none"/><text x="122.4" y="1181.8" text-anchor="end" class="rt">0.0</text><text x="125.4" y="1189.4" text-anchor="middle" class="rt">0.0</text><text x="122.4" y="1133.5" text-anchor="end" class="rt">0.2</text><text x="173.6" y="1189.4" text-anchor="middle" class="rt">0.2</text><text x="122.4" y="1085.3" text-anchor="end" class="rt">0.4</text><text x="221.9" y="1189.4" text-anchor="middle" class="rt">0.4</text><text x="122.4" y="1037.0" text-anchor="end" class="rt">0.6</text><text x="270.1" y="1189.4" text-anchor="middle" class="rt">0.6</text><text x="122.4" y="988.8" text-anchor="end" class="rt">0.8</text><text x="318.4" y="1189.4" text-anchor="middle" class="rt">0.8</text><text x="122.4" y="940.5" text-anchor="end" class="rt">1.0</text><text x="366.6" y="1189.4" text-anchor="middle" class="rt">1.0</text><text x="250.5" y="928.4" text-anchor="middle" class="rti">hsa-miR-199a-3p</text><text transform="translate(109.0 1061.5) rotate(-90)" text-anchor="middle" class="ax">sensitivity</text><text x="249.9" y="1204.6" text-anchor="middle" class="ax">1 - specificity</text><text x="200.7" y="1107.9" class="auc" xml:space="preserve">AUC(95%CI): 0.767(0.645-0.888)</text><text x="200.7" y="1129.0" class="auc" xml:space="preserve">Sensitivity%(95%CI): 71.88(54.63% to 84.44%)</text><text x="200.7" y="1150.2" class="auc" xml:space="preserve">Specificity%(95%CI): 66.67(48.78% to 80.77%)</text></g>
<g><path d="M597.0 1127.7H836.4M597.0 1079.7H836.4M597.0 1031.6H836.4M597.0 983.6H836.4M597.0 935.6H836.4" stroke="#d4d4d4" stroke-width="1.1" fill="none"/><path d="M597.0 935.6V1175.7" stroke="#a8a8a8" stroke-width="1.1"/><path d="M597.0 1175.7H836.4" stroke="#9a9a9a" stroke-width="1.6"/><path d="M597.0 1175.7L836.4 935.6" stroke="#6f9f97" stroke-width="1.3" fill="none"/><polyline points="597.0,1175.7 597.0,1151.7 604.2,1151.7 604.2,1143.5 611.6,1143.5 611.6,1134.9 619.3,1134.9 619.3,1095.3 626.4,1087.3 626.4,1071.5 634.3,1071.5 634.3,1039.3 642.0,1039.3 642.0,1015.3 656.6,1015.3 656.6,999.5 671.9,999.5 671.9,991.3 701.9,991.3 701.9,983.6 732.3,983.6 732.3,975.5 746.9,975.5 746.9,967.3 754.3,967.3 754.3,959.4 777.0,959.4 777.0,951.2 799.5,951.2 799.5,935.6 836.4,935.6" stroke="#88bbe3" stroke-width="1.5" fill="none"/><text x="594.0" y="1177.9" text-anchor="end" class="rt">0.0</text><text x="597.0" y="1185.5" text-anchor="middle" class="rt">0.0</text><text x="594.0" y="1129.9" text-anchor="end" class="rt">0.2</text><text x="644.9" y="1185.5" text-anchor="middle" class="rt">0.2</text><text x="594.0" y="1081.9" text-anchor="end" class="rt">0.4</text><text x="692.8" y="1185.5" text-anchor="middle" class="rt">0.4</text><text x="594.0" y="1033.8" text-anchor="end" class="rt">0.6</text><text x="740.6" y="1185.5" text-anchor="middle" class="rt">0.6</text><text x="594.0" y="985.8" text-anchor="end" class="rt">0.8</text><text x="788.5" y="1185.5" text-anchor="middle" class="rt">0.8</text><text x="594.0" y="937.8" text-anchor="end" class="rt">1.0</text><text x="836.4" y="1185.5" text-anchor="middle" class="rt">1.0</text><text x="735.5" y="923.6" text-anchor="middle" class="rti">hsa-miR-222-3p</text><text transform="translate(580.8 1048.0) rotate(-90)" text-anchor="middle" class="ax">sensitivity</text><text x="726.3" y="1200.6" text-anchor="middle" class="ax">1 - specificity</text><text x="671.9" y="1104.3" class="auc" xml:space="preserve">AUC(95%CI): 0.745(0.620-0.871)</text><text x="671.9" y="1125.2" class="auc" xml:space="preserve">Sensitivity%(95%CI):  75(57.89% to 86.75%)</text><text x="671.9" y="1146.3" class="auc" xml:space="preserve">Specificity%(95%CI):  73.33(55.55% to 85.82%)</text></g>
<g><path d="M1069.5 1128.2H1315.4M1069.5 1079.1H1315.4M1069.5 1029.9H1315.4M1069.5 980.8H1315.4M1069.5 931.7H1315.4" stroke="#d4d4d4" stroke-width="1.1" fill="none"/><path d="M1069.5 931.7V1177.3" stroke="#a8a8a8" stroke-width="1.1"/><path d="M1069.5 1177.3H1315.4" stroke="#9a9a9a" stroke-width="1.6"/><path d="M1069.5 1177.3L1315.4 931.7" stroke="#6f9f97" stroke-width="1.3" fill="none"/><polyline points="1069.5,1177.3 1069.5,1169.2 1077.6,1169.2 1077.6,1161.1 1085.2,1161.1 1085.2,1152.7 1092.6,1152.7 1092.6,1144.6 1107.9,1144.6 1107.9,1120.3 1123.6,1120.3 1123.6,1095.3 1131.5,1095.3 1131.5,1087.2 1138.8,1087.2 1138.8,1038.3 1146.5,1038.3 1146.5,1021.8 1154.1,1021.8 1154.1,988.7 1177.2,988.7 1177.2,972.5 1192.5,972.5 1192.5,964.4 1207.9,964.4 1207.9,956.3 1238.9,956.3 1238.9,947.9 1253.9,947.9 1253.9,939.8 1262.0,939.8 1262.0,931.7 1315.4,931.7" stroke="#88bbe3" stroke-width="1.5" fill="none"/><text x="1066.5" y="1179.5" text-anchor="end" class="rt">0.0</text><text x="1069.5" y="1187.1" text-anchor="middle" class="rt">0.0</text><text x="1066.5" y="1130.4" text-anchor="end" class="rt">0.2</text><text x="1118.7" y="1187.1" text-anchor="middle" class="rt">0.2</text><text x="1066.5" y="1081.3" text-anchor="end" class="rt">0.4</text><text x="1167.9" y="1187.1" text-anchor="middle" class="rt">0.4</text><text x="1066.5" y="1032.1" text-anchor="end" class="rt">0.6</text><text x="1217.0" y="1187.1" text-anchor="middle" class="rt">0.6</text><text x="1066.5" y="983.0" text-anchor="end" class="rt">0.8</text><text x="1266.2" y="1187.1" text-anchor="middle" class="rt">0.8</text><text x="1066.5" y="933.9" text-anchor="end" class="rt">1.0</text><text x="1315.4" y="1187.1" text-anchor="middle" class="rt">1.0</text><text x="1199.6" y="923.6" text-anchor="middle" class="rti">hsa-let-7d-3p</text><text transform="translate(1047.1 1043.1) rotate(-90)" text-anchor="middle" class="ax">sensitivity</text><text x="1189.4" y="1203.2" text-anchor="middle" class="ax">1 - specificity</text><text x="1143.1" y="1107.6" class="auc" xml:space="preserve">AUC(95%CI): 0.686(0.551-0.822)</text><text x="1143.1" y="1128.8" class="auc" xml:space="preserve">Sensitivity%(95%CI):  65.63(48.31% to 79.59%)</text><text x="1143.1" y="1149.6" class="auc" xml:space="preserve">Specificity%(95%CI):  76.67(59.07% to 88.21%)</text></g>
<g><path d="M135.4 1476.8H387.8M135.4 1426.3H387.8M135.4 1375.8H387.8M135.4 1325.3H387.8M135.4 1274.8H387.8" stroke="#d4d4d4" stroke-width="1.1" fill="none"/><path d="M135.4 1274.8V1527.3" stroke="#a8a8a8" stroke-width="1.1"/><path d="M135.4 1527.3H387.8" stroke="#9a9a9a" stroke-width="1.6"/><path d="M135.4 1527.3L387.8 1274.8" stroke="#6f9f97" stroke-width="1.3" fill="none"/><polyline points="135.4,1527.3 135.4,1493.7 142.5,1493.7 142.5,1468.7 158.9,1468.7 158.9,1392.7 166.4,1392.7 166.4,1384.6 190.7,1384.6 190.7,1375.8 221.7,1375.8 221.7,1367.2 253.5,1367.2 253.5,1358.6 269.7,1358.6 269.7,1325.0 316.9,1325.0 316.9,1308.1 324.2,1308.1 324.2,1291.2 365.1,1291.2 365.1,1282.9 372.2,1282.9 372.2,1274.8 387.8,1274.8" stroke="#88bbe3" stroke-width="1.5" fill="none"/><text x="132.4" y="1529.5" text-anchor="end" class="rt">0.0</text><text x="135.4" y="1537.1" text-anchor="middle" class="rt">0.0</text><text x="132.4" y="1479.0" text-anchor="end" class="rt">0.2</text><text x="185.9" y="1537.1" text-anchor="middle" class="rt">0.2</text><text x="132.4" y="1428.5" text-anchor="end" class="rt">0.4</text><text x="236.4" y="1537.1" text-anchor="middle" class="rt">0.4</text><text x="132.4" y="1378.0" text-anchor="end" class="rt">0.6</text><text x="286.8" y="1537.1" text-anchor="middle" class="rt">0.6</text><text x="132.4" y="1327.5" text-anchor="end" class="rt">0.8</text><text x="337.3" y="1537.1" text-anchor="middle" class="rt">0.8</text><text x="132.4" y="1277.0" text-anchor="end" class="rt">1.0</text><text x="387.8" y="1537.1" text-anchor="middle" class="rt">1.0</text><text x="268.1" y="1263.4" text-anchor="middle" class="rti">hsa-miR-423-5p</text><text transform="translate(117.6 1391.0) rotate(-90)" text-anchor="middle" class="ax">sensitivity</text><text x="260.8" y="1550.2" text-anchor="middle" class="ax">1 - specificity</text><text x="199.5" y="1469.3" class="auc" xml:space="preserve">AUC(95%CI): 0.700(0.5667-0.8333)</text><text x="199.5" y="1490.5" class="auc" xml:space="preserve">Sensitivity%(95%CI): 78.13(61.25% to 88.98%)</text><text x="199.5" y="1511.0" class="auc" xml:space="preserve">Specificity%(95%CI):  60(42.32% to 75.41%)</text></g>
<g><path d="M597.0 1470.1H849.4M597.0 1419.4H849.4M597.0 1368.7H849.4M597.0 1318.0H849.4M597.0 1267.3H849.4" stroke="#d4d4d4" stroke-width="1.1" fill="none"/><path d="M597.0 1267.3V1520.8" stroke="#a8a8a8" stroke-width="1.1"/><path d="M597.0 1520.8H849.4" stroke="#9a9a9a" stroke-width="1.6"/><path d="M597.0 1520.8L849.4 1267.3" stroke="#6f9f97" stroke-width="1.3" fill="none"/><polyline points="597.0,1520.8 597.0,1494.7 605.1,1494.7 605.1,1478.2 612.4,1478.2 612.4,1461.2 620.5,1461.2 620.5,1452.4 628.5,1452.4 628.5,1427.5 644.2,1427.5 644.2,1419.4 652.3,1419.4 652.3,1359.6 715.9,1359.6 715.9,1342.8 723.2,1342.8 723.2,1325.9 731.3,1325.9 731.3,1309.6 738.6,1309.6 738.6,1300.8 770.7,1300.8 770.7,1292.4 825.7,1292.4 825.7,1283.5 834.0,1283.5 834.0,1275.4 841.8,1275.4 841.8,1267.3 849.4,1267.3" stroke="#88bbe3" stroke-width="1.5" fill="none"/><text x="594.0" y="1523.0" text-anchor="end" class="rt">0.0</text><text x="597.0" y="1530.6" text-anchor="middle" class="rt">0.0</text><text x="594.0" y="1472.3" text-anchor="end" class="rt">0.2</text><text x="647.5" y="1530.6" text-anchor="middle" class="rt">0.2</text><text x="594.0" y="1421.6" text-anchor="end" class="rt">0.4</text><text x="698.0" y="1530.6" text-anchor="middle" class="rt">0.4</text><text x="594.0" y="1370.9" text-anchor="end" class="rt">0.6</text><text x="748.4" y="1530.6" text-anchor="middle" class="rt">0.6</text><text x="594.0" y="1320.2" text-anchor="end" class="rt">0.8</text><text x="798.9" y="1530.6" text-anchor="middle" class="rt">0.8</text><text x="594.0" y="1269.5" text-anchor="end" class="rt">1.0</text><text x="849.4" y="1530.6" text-anchor="middle" class="rt">1.0</text><text x="728.3" y="1257.6" text-anchor="middle" class="rti">hsa-miR-181d-5p</text><text transform="translate(579.2 1391.0) rotate(-90)" text-anchor="middle" class="ax">sensitivity</text><text x="727.3" y="1545.4" text-anchor="middle" class="ax">1 - specificity</text><text x="663.8" y="1456.9" class="auc" xml:space="preserve">AUC(95%CI): 0.685(0.551-0.820)</text><text x="663.8" y="1478.4" class="auc" xml:space="preserve">Sensitivity%(95%CI): 78.13(61.25% to 88.98%)</text><text x="663.8" y="1499.6" class="auc" xml:space="preserve">Specificity%(95%CI): 63.33(45.51% to 78.13%)</text></g>
</svg>
</body></html>
